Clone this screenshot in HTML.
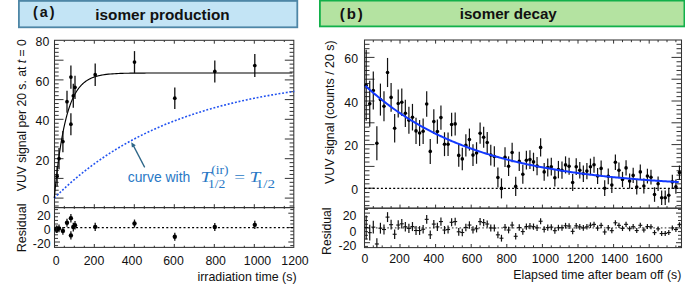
<!DOCTYPE html>
<html><head><meta charset="utf-8"><style>
html,body{margin:0;padding:0;background:#fff;}
body{width:685px;height:285px;overflow:hidden;}
svg{display:block;}
</style></head><body>
<svg width="685" height="285" viewBox="0 0 685 285">
<rect width="685" height="285" fill="#fff"/>
<rect x="18.9" y="0.9" width="278.4" height="26.4" fill="#c3e4f5" stroke="#4e86a6" stroke-width="1.8"/>
<rect x="319.9" y="0.6" width="364.5" height="25.8" fill="#b4e3a1" stroke="#12b04a" stroke-width="1.8"/>
<text x="33.00" y="17.20" font-family='"Liberation Sans", sans-serif' font-size="14.4" text-anchor="start" fill="#111" font-weight="bold" letter-spacing="2.0">(a)</text>
<text x="95.30" y="19.60" font-family='"Liberation Sans", sans-serif' font-size="15.3" text-anchor="start" fill="#111" font-weight="bold">isomer production</text>
<text x="339.80" y="18.90" font-family='"Liberation Sans", sans-serif' font-size="15" text-anchor="start" fill="#111" font-weight="bold" letter-spacing="1.9">(b)</text>
<text x="459.70" y="19.30" font-family='"Liberation Sans", sans-serif' font-size="15.2" text-anchor="start" fill="#111" font-weight="bold">isomer decay</text>
<line x1="54.50" y1="205.98" x2="58.70" y2="205.98" stroke="#333" stroke-width="1" />
<line x1="293.80" y1="205.98" x2="289.60" y2="205.98" stroke="#333" stroke-width="1" />
<line x1="54.50" y1="202.04" x2="58.70" y2="202.04" stroke="#333" stroke-width="1" />
<line x1="293.80" y1="202.04" x2="289.60" y2="202.04" stroke="#333" stroke-width="1" />
<line x1="54.50" y1="198.10" x2="63.50" y2="198.10" stroke="#333" stroke-width="1" />
<line x1="293.80" y1="198.10" x2="284.80" y2="198.10" stroke="#333" stroke-width="1" />
<line x1="54.50" y1="194.16" x2="58.70" y2="194.16" stroke="#333" stroke-width="1" />
<line x1="293.80" y1="194.16" x2="289.60" y2="194.16" stroke="#333" stroke-width="1" />
<line x1="54.50" y1="190.22" x2="58.70" y2="190.22" stroke="#333" stroke-width="1" />
<line x1="293.80" y1="190.22" x2="289.60" y2="190.22" stroke="#333" stroke-width="1" />
<line x1="54.50" y1="186.28" x2="58.70" y2="186.28" stroke="#333" stroke-width="1" />
<line x1="293.80" y1="186.28" x2="289.60" y2="186.28" stroke="#333" stroke-width="1" />
<line x1="54.50" y1="182.34" x2="58.70" y2="182.34" stroke="#333" stroke-width="1" />
<line x1="293.80" y1="182.34" x2="289.60" y2="182.34" stroke="#333" stroke-width="1" />
<line x1="54.50" y1="178.40" x2="63.50" y2="178.40" stroke="#333" stroke-width="1" />
<line x1="293.80" y1="178.40" x2="284.80" y2="178.40" stroke="#333" stroke-width="1" />
<line x1="54.50" y1="174.46" x2="58.70" y2="174.46" stroke="#333" stroke-width="1" />
<line x1="293.80" y1="174.46" x2="289.60" y2="174.46" stroke="#333" stroke-width="1" />
<line x1="54.50" y1="170.52" x2="58.70" y2="170.52" stroke="#333" stroke-width="1" />
<line x1="293.80" y1="170.52" x2="289.60" y2="170.52" stroke="#333" stroke-width="1" />
<line x1="54.50" y1="166.58" x2="58.70" y2="166.58" stroke="#333" stroke-width="1" />
<line x1="293.80" y1="166.58" x2="289.60" y2="166.58" stroke="#333" stroke-width="1" />
<line x1="54.50" y1="162.64" x2="58.70" y2="162.64" stroke="#333" stroke-width="1" />
<line x1="293.80" y1="162.64" x2="289.60" y2="162.64" stroke="#333" stroke-width="1" />
<line x1="54.50" y1="158.70" x2="63.50" y2="158.70" stroke="#333" stroke-width="1" />
<line x1="293.80" y1="158.70" x2="284.80" y2="158.70" stroke="#333" stroke-width="1" />
<line x1="54.50" y1="154.76" x2="58.70" y2="154.76" stroke="#333" stroke-width="1" />
<line x1="293.80" y1="154.76" x2="289.60" y2="154.76" stroke="#333" stroke-width="1" />
<line x1="54.50" y1="150.82" x2="58.70" y2="150.82" stroke="#333" stroke-width="1" />
<line x1="293.80" y1="150.82" x2="289.60" y2="150.82" stroke="#333" stroke-width="1" />
<line x1="54.50" y1="146.88" x2="58.70" y2="146.88" stroke="#333" stroke-width="1" />
<line x1="293.80" y1="146.88" x2="289.60" y2="146.88" stroke="#333" stroke-width="1" />
<line x1="54.50" y1="142.94" x2="58.70" y2="142.94" stroke="#333" stroke-width="1" />
<line x1="293.80" y1="142.94" x2="289.60" y2="142.94" stroke="#333" stroke-width="1" />
<line x1="54.50" y1="139.00" x2="63.50" y2="139.00" stroke="#333" stroke-width="1" />
<line x1="293.80" y1="139.00" x2="284.80" y2="139.00" stroke="#333" stroke-width="1" />
<line x1="54.50" y1="135.06" x2="58.70" y2="135.06" stroke="#333" stroke-width="1" />
<line x1="293.80" y1="135.06" x2="289.60" y2="135.06" stroke="#333" stroke-width="1" />
<line x1="54.50" y1="131.12" x2="58.70" y2="131.12" stroke="#333" stroke-width="1" />
<line x1="293.80" y1="131.12" x2="289.60" y2="131.12" stroke="#333" stroke-width="1" />
<line x1="54.50" y1="127.18" x2="58.70" y2="127.18" stroke="#333" stroke-width="1" />
<line x1="293.80" y1="127.18" x2="289.60" y2="127.18" stroke="#333" stroke-width="1" />
<line x1="54.50" y1="123.24" x2="58.70" y2="123.24" stroke="#333" stroke-width="1" />
<line x1="293.80" y1="123.24" x2="289.60" y2="123.24" stroke="#333" stroke-width="1" />
<line x1="54.50" y1="119.30" x2="63.50" y2="119.30" stroke="#333" stroke-width="1" />
<line x1="293.80" y1="119.30" x2="284.80" y2="119.30" stroke="#333" stroke-width="1" />
<line x1="54.50" y1="115.36" x2="58.70" y2="115.36" stroke="#333" stroke-width="1" />
<line x1="293.80" y1="115.36" x2="289.60" y2="115.36" stroke="#333" stroke-width="1" />
<line x1="54.50" y1="111.42" x2="58.70" y2="111.42" stroke="#333" stroke-width="1" />
<line x1="293.80" y1="111.42" x2="289.60" y2="111.42" stroke="#333" stroke-width="1" />
<line x1="54.50" y1="107.48" x2="58.70" y2="107.48" stroke="#333" stroke-width="1" />
<line x1="293.80" y1="107.48" x2="289.60" y2="107.48" stroke="#333" stroke-width="1" />
<line x1="54.50" y1="103.54" x2="58.70" y2="103.54" stroke="#333" stroke-width="1" />
<line x1="293.80" y1="103.54" x2="289.60" y2="103.54" stroke="#333" stroke-width="1" />
<line x1="54.50" y1="99.60" x2="63.50" y2="99.60" stroke="#333" stroke-width="1" />
<line x1="293.80" y1="99.60" x2="284.80" y2="99.60" stroke="#333" stroke-width="1" />
<line x1="54.50" y1="95.66" x2="58.70" y2="95.66" stroke="#333" stroke-width="1" />
<line x1="293.80" y1="95.66" x2="289.60" y2="95.66" stroke="#333" stroke-width="1" />
<line x1="54.50" y1="91.72" x2="58.70" y2="91.72" stroke="#333" stroke-width="1" />
<line x1="293.80" y1="91.72" x2="289.60" y2="91.72" stroke="#333" stroke-width="1" />
<line x1="54.50" y1="87.78" x2="58.70" y2="87.78" stroke="#333" stroke-width="1" />
<line x1="293.80" y1="87.78" x2="289.60" y2="87.78" stroke="#333" stroke-width="1" />
<line x1="54.50" y1="83.84" x2="58.70" y2="83.84" stroke="#333" stroke-width="1" />
<line x1="293.80" y1="83.84" x2="289.60" y2="83.84" stroke="#333" stroke-width="1" />
<line x1="54.50" y1="79.90" x2="63.50" y2="79.90" stroke="#333" stroke-width="1" />
<line x1="293.80" y1="79.90" x2="284.80" y2="79.90" stroke="#333" stroke-width="1" />
<line x1="54.50" y1="75.96" x2="58.70" y2="75.96" stroke="#333" stroke-width="1" />
<line x1="293.80" y1="75.96" x2="289.60" y2="75.96" stroke="#333" stroke-width="1" />
<line x1="54.50" y1="72.02" x2="58.70" y2="72.02" stroke="#333" stroke-width="1" />
<line x1="293.80" y1="72.02" x2="289.60" y2="72.02" stroke="#333" stroke-width="1" />
<line x1="54.50" y1="68.08" x2="58.70" y2="68.08" stroke="#333" stroke-width="1" />
<line x1="293.80" y1="68.08" x2="289.60" y2="68.08" stroke="#333" stroke-width="1" />
<line x1="54.50" y1="64.14" x2="58.70" y2="64.14" stroke="#333" stroke-width="1" />
<line x1="293.80" y1="64.14" x2="289.60" y2="64.14" stroke="#333" stroke-width="1" />
<line x1="54.50" y1="60.20" x2="63.50" y2="60.20" stroke="#333" stroke-width="1" />
<line x1="293.80" y1="60.20" x2="284.80" y2="60.20" stroke="#333" stroke-width="1" />
<line x1="54.50" y1="56.26" x2="58.70" y2="56.26" stroke="#333" stroke-width="1" />
<line x1="293.80" y1="56.26" x2="289.60" y2="56.26" stroke="#333" stroke-width="1" />
<line x1="54.50" y1="52.32" x2="58.70" y2="52.32" stroke="#333" stroke-width="1" />
<line x1="293.80" y1="52.32" x2="289.60" y2="52.32" stroke="#333" stroke-width="1" />
<line x1="54.50" y1="48.38" x2="58.70" y2="48.38" stroke="#333" stroke-width="1" />
<line x1="293.80" y1="48.38" x2="289.60" y2="48.38" stroke="#333" stroke-width="1" />
<line x1="54.50" y1="44.44" x2="58.70" y2="44.44" stroke="#333" stroke-width="1" />
<line x1="293.80" y1="44.44" x2="289.60" y2="44.44" stroke="#333" stroke-width="1" />
<line x1="64.30" y1="40.30" x2="64.30" y2="42.00" stroke="#333" stroke-width="1" />
<line x1="64.30" y1="207.60" x2="64.30" y2="205.90" stroke="#333" stroke-width="1" />
<line x1="64.30" y1="207.60" x2="64.30" y2="208.90" stroke="#333" stroke-width="1" />
<line x1="64.30" y1="247.40" x2="64.30" y2="245.70" stroke="#333" stroke-width="1" />
<line x1="74.30" y1="40.30" x2="74.30" y2="42.00" stroke="#333" stroke-width="1" />
<line x1="74.30" y1="207.60" x2="74.30" y2="205.90" stroke="#333" stroke-width="1" />
<line x1="74.30" y1="207.60" x2="74.30" y2="208.90" stroke="#333" stroke-width="1" />
<line x1="74.30" y1="247.40" x2="74.30" y2="245.70" stroke="#333" stroke-width="1" />
<line x1="84.30" y1="40.30" x2="84.30" y2="42.00" stroke="#333" stroke-width="1" />
<line x1="84.30" y1="207.60" x2="84.30" y2="205.90" stroke="#333" stroke-width="1" />
<line x1="84.30" y1="207.60" x2="84.30" y2="208.90" stroke="#333" stroke-width="1" />
<line x1="84.30" y1="247.40" x2="84.30" y2="245.70" stroke="#333" stroke-width="1" />
<line x1="94.30" y1="40.30" x2="94.30" y2="43.70" stroke="#333" stroke-width="1" />
<line x1="94.30" y1="207.60" x2="94.30" y2="204.20" stroke="#333" stroke-width="1" />
<line x1="94.30" y1="207.60" x2="94.30" y2="208.90" stroke="#333" stroke-width="1" />
<line x1="94.30" y1="247.40" x2="94.30" y2="244.00" stroke="#333" stroke-width="1" />
<line x1="104.30" y1="40.30" x2="104.30" y2="42.00" stroke="#333" stroke-width="1" />
<line x1="104.30" y1="207.60" x2="104.30" y2="205.90" stroke="#333" stroke-width="1" />
<line x1="104.30" y1="207.60" x2="104.30" y2="208.90" stroke="#333" stroke-width="1" />
<line x1="104.30" y1="247.40" x2="104.30" y2="245.70" stroke="#333" stroke-width="1" />
<line x1="114.30" y1="40.30" x2="114.30" y2="42.00" stroke="#333" stroke-width="1" />
<line x1="114.30" y1="207.60" x2="114.30" y2="205.90" stroke="#333" stroke-width="1" />
<line x1="114.30" y1="207.60" x2="114.30" y2="208.90" stroke="#333" stroke-width="1" />
<line x1="114.30" y1="247.40" x2="114.30" y2="245.70" stroke="#333" stroke-width="1" />
<line x1="124.30" y1="40.30" x2="124.30" y2="42.00" stroke="#333" stroke-width="1" />
<line x1="124.30" y1="207.60" x2="124.30" y2="205.90" stroke="#333" stroke-width="1" />
<line x1="124.30" y1="207.60" x2="124.30" y2="208.90" stroke="#333" stroke-width="1" />
<line x1="124.30" y1="247.40" x2="124.30" y2="245.70" stroke="#333" stroke-width="1" />
<line x1="134.30" y1="40.30" x2="134.30" y2="43.70" stroke="#333" stroke-width="1" />
<line x1="134.30" y1="207.60" x2="134.30" y2="204.20" stroke="#333" stroke-width="1" />
<line x1="134.30" y1="207.60" x2="134.30" y2="208.90" stroke="#333" stroke-width="1" />
<line x1="134.30" y1="247.40" x2="134.30" y2="244.00" stroke="#333" stroke-width="1" />
<line x1="144.30" y1="40.30" x2="144.30" y2="42.00" stroke="#333" stroke-width="1" />
<line x1="144.30" y1="207.60" x2="144.30" y2="205.90" stroke="#333" stroke-width="1" />
<line x1="144.30" y1="207.60" x2="144.30" y2="208.90" stroke="#333" stroke-width="1" />
<line x1="144.30" y1="247.40" x2="144.30" y2="245.70" stroke="#333" stroke-width="1" />
<line x1="154.30" y1="40.30" x2="154.30" y2="42.00" stroke="#333" stroke-width="1" />
<line x1="154.30" y1="207.60" x2="154.30" y2="205.90" stroke="#333" stroke-width="1" />
<line x1="154.30" y1="207.60" x2="154.30" y2="208.90" stroke="#333" stroke-width="1" />
<line x1="154.30" y1="247.40" x2="154.30" y2="245.70" stroke="#333" stroke-width="1" />
<line x1="164.30" y1="40.30" x2="164.30" y2="42.00" stroke="#333" stroke-width="1" />
<line x1="164.30" y1="207.60" x2="164.30" y2="205.90" stroke="#333" stroke-width="1" />
<line x1="164.30" y1="207.60" x2="164.30" y2="208.90" stroke="#333" stroke-width="1" />
<line x1="164.30" y1="247.40" x2="164.30" y2="245.70" stroke="#333" stroke-width="1" />
<line x1="174.30" y1="40.30" x2="174.30" y2="43.70" stroke="#333" stroke-width="1" />
<line x1="174.30" y1="207.60" x2="174.30" y2="204.20" stroke="#333" stroke-width="1" />
<line x1="174.30" y1="207.60" x2="174.30" y2="208.90" stroke="#333" stroke-width="1" />
<line x1="174.30" y1="247.40" x2="174.30" y2="244.00" stroke="#333" stroke-width="1" />
<line x1="184.30" y1="40.30" x2="184.30" y2="42.00" stroke="#333" stroke-width="1" />
<line x1="184.30" y1="207.60" x2="184.30" y2="205.90" stroke="#333" stroke-width="1" />
<line x1="184.30" y1="207.60" x2="184.30" y2="208.90" stroke="#333" stroke-width="1" />
<line x1="184.30" y1="247.40" x2="184.30" y2="245.70" stroke="#333" stroke-width="1" />
<line x1="194.30" y1="40.30" x2="194.30" y2="42.00" stroke="#333" stroke-width="1" />
<line x1="194.30" y1="207.60" x2="194.30" y2="205.90" stroke="#333" stroke-width="1" />
<line x1="194.30" y1="207.60" x2="194.30" y2="208.90" stroke="#333" stroke-width="1" />
<line x1="194.30" y1="247.40" x2="194.30" y2="245.70" stroke="#333" stroke-width="1" />
<line x1="204.30" y1="40.30" x2="204.30" y2="42.00" stroke="#333" stroke-width="1" />
<line x1="204.30" y1="207.60" x2="204.30" y2="205.90" stroke="#333" stroke-width="1" />
<line x1="204.30" y1="207.60" x2="204.30" y2="208.90" stroke="#333" stroke-width="1" />
<line x1="204.30" y1="247.40" x2="204.30" y2="245.70" stroke="#333" stroke-width="1" />
<line x1="214.30" y1="40.30" x2="214.30" y2="43.70" stroke="#333" stroke-width="1" />
<line x1="214.30" y1="207.60" x2="214.30" y2="204.20" stroke="#333" stroke-width="1" />
<line x1="214.30" y1="207.60" x2="214.30" y2="208.90" stroke="#333" stroke-width="1" />
<line x1="214.30" y1="247.40" x2="214.30" y2="244.00" stroke="#333" stroke-width="1" />
<line x1="224.30" y1="40.30" x2="224.30" y2="42.00" stroke="#333" stroke-width="1" />
<line x1="224.30" y1="207.60" x2="224.30" y2="205.90" stroke="#333" stroke-width="1" />
<line x1="224.30" y1="207.60" x2="224.30" y2="208.90" stroke="#333" stroke-width="1" />
<line x1="224.30" y1="247.40" x2="224.30" y2="245.70" stroke="#333" stroke-width="1" />
<line x1="234.30" y1="40.30" x2="234.30" y2="42.00" stroke="#333" stroke-width="1" />
<line x1="234.30" y1="207.60" x2="234.30" y2="205.90" stroke="#333" stroke-width="1" />
<line x1="234.30" y1="207.60" x2="234.30" y2="208.90" stroke="#333" stroke-width="1" />
<line x1="234.30" y1="247.40" x2="234.30" y2="245.70" stroke="#333" stroke-width="1" />
<line x1="244.30" y1="40.30" x2="244.30" y2="42.00" stroke="#333" stroke-width="1" />
<line x1="244.30" y1="207.60" x2="244.30" y2="205.90" stroke="#333" stroke-width="1" />
<line x1="244.30" y1="207.60" x2="244.30" y2="208.90" stroke="#333" stroke-width="1" />
<line x1="244.30" y1="247.40" x2="244.30" y2="245.70" stroke="#333" stroke-width="1" />
<line x1="254.30" y1="40.30" x2="254.30" y2="43.70" stroke="#333" stroke-width="1" />
<line x1="254.30" y1="207.60" x2="254.30" y2="204.20" stroke="#333" stroke-width="1" />
<line x1="254.30" y1="207.60" x2="254.30" y2="208.90" stroke="#333" stroke-width="1" />
<line x1="254.30" y1="247.40" x2="254.30" y2="244.00" stroke="#333" stroke-width="1" />
<line x1="264.30" y1="40.30" x2="264.30" y2="42.00" stroke="#333" stroke-width="1" />
<line x1="264.30" y1="207.60" x2="264.30" y2="205.90" stroke="#333" stroke-width="1" />
<line x1="264.30" y1="207.60" x2="264.30" y2="208.90" stroke="#333" stroke-width="1" />
<line x1="264.30" y1="247.40" x2="264.30" y2="245.70" stroke="#333" stroke-width="1" />
<line x1="274.30" y1="40.30" x2="274.30" y2="42.00" stroke="#333" stroke-width="1" />
<line x1="274.30" y1="207.60" x2="274.30" y2="205.90" stroke="#333" stroke-width="1" />
<line x1="274.30" y1="207.60" x2="274.30" y2="208.90" stroke="#333" stroke-width="1" />
<line x1="274.30" y1="247.40" x2="274.30" y2="245.70" stroke="#333" stroke-width="1" />
<line x1="284.30" y1="40.30" x2="284.30" y2="42.00" stroke="#333" stroke-width="1" />
<line x1="284.30" y1="207.60" x2="284.30" y2="205.90" stroke="#333" stroke-width="1" />
<line x1="284.30" y1="207.60" x2="284.30" y2="208.90" stroke="#333" stroke-width="1" />
<line x1="284.30" y1="247.40" x2="284.30" y2="245.70" stroke="#333" stroke-width="1" />
<line x1="54.50" y1="245.60" x2="58.00" y2="245.60" stroke="#333" stroke-width="1" />
<line x1="293.80" y1="245.60" x2="290.30" y2="245.60" stroke="#333" stroke-width="1" />
<line x1="54.50" y1="242.00" x2="60.00" y2="242.00" stroke="#333" stroke-width="1" />
<line x1="293.80" y1="242.00" x2="288.30" y2="242.00" stroke="#333" stroke-width="1" />
<line x1="54.50" y1="238.40" x2="58.00" y2="238.40" stroke="#333" stroke-width="1" />
<line x1="293.80" y1="238.40" x2="290.30" y2="238.40" stroke="#333" stroke-width="1" />
<line x1="54.50" y1="234.80" x2="58.00" y2="234.80" stroke="#333" stroke-width="1" />
<line x1="293.80" y1="234.80" x2="290.30" y2="234.80" stroke="#333" stroke-width="1" />
<line x1="54.50" y1="231.20" x2="58.00" y2="231.20" stroke="#333" stroke-width="1" />
<line x1="293.80" y1="231.20" x2="290.30" y2="231.20" stroke="#333" stroke-width="1" />
<line x1="54.50" y1="227.60" x2="60.00" y2="227.60" stroke="#333" stroke-width="1" />
<line x1="293.80" y1="227.60" x2="288.30" y2="227.60" stroke="#333" stroke-width="1" />
<line x1="54.50" y1="224.00" x2="58.00" y2="224.00" stroke="#333" stroke-width="1" />
<line x1="293.80" y1="224.00" x2="290.30" y2="224.00" stroke="#333" stroke-width="1" />
<line x1="54.50" y1="220.40" x2="58.00" y2="220.40" stroke="#333" stroke-width="1" />
<line x1="293.80" y1="220.40" x2="290.30" y2="220.40" stroke="#333" stroke-width="1" />
<line x1="54.50" y1="216.80" x2="58.00" y2="216.80" stroke="#333" stroke-width="1" />
<line x1="293.80" y1="216.80" x2="290.30" y2="216.80" stroke="#333" stroke-width="1" />
<line x1="54.50" y1="213.20" x2="60.00" y2="213.20" stroke="#333" stroke-width="1" />
<line x1="293.80" y1="213.20" x2="288.30" y2="213.20" stroke="#333" stroke-width="1" />
<line x1="54.50" y1="209.60" x2="58.00" y2="209.60" stroke="#333" stroke-width="1" />
<line x1="293.80" y1="209.60" x2="290.30" y2="209.60" stroke="#333" stroke-width="1" />
<rect x="54.5" y="40.3" width="239.30" height="167.30" fill="none" stroke="#333" stroke-width="1.05"/>
<rect x="54.5" y="207.6" width="239.30" height="39.80" fill="none" stroke="#333" stroke-width="1.05"/>
<text x="49.30" y="203.90" font-family='"Liberation Sans", sans-serif' font-size="12.3" text-anchor="end" fill="#111" >0</text>
<text x="49.30" y="164.50" font-family='"Liberation Sans", sans-serif' font-size="12.3" text-anchor="end" fill="#111" >20</text>
<text x="49.30" y="125.10" font-family='"Liberation Sans", sans-serif' font-size="12.3" text-anchor="end" fill="#111" >40</text>
<text x="49.30" y="85.70" font-family='"Liberation Sans", sans-serif' font-size="12.3" text-anchor="end" fill="#111" >60</text>
<text x="49.30" y="46.30" font-family='"Liberation Sans", sans-serif' font-size="12.3" text-anchor="end" fill="#111" >80</text>
<text x="50.60" y="219.60" font-family='"Liberation Sans", sans-serif' font-size="12.3" text-anchor="end" fill="#111" >20</text>
<text x="50.60" y="233.90" font-family='"Liberation Sans", sans-serif' font-size="12.3" text-anchor="end" fill="#111" >0</text>
<text x="50.60" y="247.60" font-family='"Liberation Sans", sans-serif' font-size="12.3" text-anchor="end" fill="#111" >-20</text>
<text x="56.10" y="265.00" font-family='"Liberation Sans", sans-serif' font-size="12.3" text-anchor="middle" fill="#111" >0</text>
<text x="94.00" y="265.00" font-family='"Liberation Sans", sans-serif' font-size="12.3" text-anchor="middle" fill="#111" >200</text>
<text x="132.00" y="265.00" font-family='"Liberation Sans", sans-serif' font-size="12.3" text-anchor="middle" fill="#111" >400</text>
<text x="173.50" y="265.00" font-family='"Liberation Sans", sans-serif' font-size="12.3" text-anchor="middle" fill="#111" >600</text>
<text x="215.70" y="265.00" font-family='"Liberation Sans", sans-serif' font-size="12.3" text-anchor="middle" fill="#111" >800</text>
<text x="257.50" y="265.00" font-family='"Liberation Sans", sans-serif' font-size="12.3" text-anchor="middle" fill="#111" >1000</text>
<text x="295.00" y="265.00" font-family='"Liberation Sans", sans-serif' font-size="12.3" text-anchor="middle" fill="#111" >1200</text>
<text x="247.00" y="280.60" font-family='"Liberation Sans", sans-serif' font-size="12.4" text-anchor="middle" fill="#111" >irradiation time (s)</text>
<text transform="translate(26.0,115.2) rotate(-90)" font-family='"Liberation Sans", sans-serif' font-size="12.2" text-anchor="middle" fill="#111">VUV signal per 20 s. at <tspan font-style="italic">t</tspan> = 0</text>
<text transform="translate(26.0,227.9) rotate(-90)" font-family='"Liberation Sans", sans-serif' font-size="12.55" text-anchor="middle" fill="#111">Residual</text>
<polyline points="54.30,198.10 56.30,196.11 58.30,194.16 60.30,192.24 62.30,190.34 64.30,188.48 66.30,186.65 68.30,184.85 70.30,183.07 72.30,181.32 74.30,179.60 76.30,177.91 78.30,176.25 80.30,174.61 82.30,173.00 84.30,171.41 86.30,169.85 88.30,168.31 90.30,166.80 92.30,165.31 94.30,163.84 96.30,162.40 98.30,160.98 100.30,159.59 102.30,158.21 104.30,156.86 106.30,155.53 108.30,154.22 110.30,152.93 112.30,151.66 114.30,150.41 116.30,149.18 118.30,147.97 120.30,146.78 122.30,145.61 124.30,144.46 126.30,143.33 128.30,142.21 130.30,141.11 132.30,140.03 134.30,138.97 136.30,137.92 138.30,136.89 140.30,135.88 142.30,134.88 144.30,133.90 146.30,132.93 148.30,131.98 150.30,131.04 152.30,130.12 154.30,129.21 156.30,128.32 158.30,127.44 160.30,126.58 162.30,125.73 164.30,124.89 166.30,124.07 168.30,123.26 170.30,122.46 172.30,121.68 174.30,120.90 176.30,120.14 178.30,119.39 180.30,118.66 182.30,117.93 184.30,117.22 186.30,116.52 188.30,115.83 190.30,115.15 192.30,114.48 194.30,113.82 196.30,113.17 198.30,112.54 200.30,111.91 202.30,111.29 204.30,110.68 206.30,110.08 208.30,109.50 210.30,108.92 212.30,108.35 214.30,107.79 216.30,107.23 218.30,106.69 220.30,106.16 222.30,105.63 224.30,105.11 226.30,104.60 228.30,104.10 230.30,103.61 232.30,103.12 234.30,102.64 236.30,102.17 238.30,101.71 240.30,101.25 242.30,100.81 244.30,100.36 246.30,99.93 248.30,99.50 250.30,99.08 252.30,98.67 254.30,98.26 256.30,97.86 258.30,97.47 260.30,97.08 262.30,96.70 264.30,96.32 266.30,95.95 268.30,95.59 270.30,95.23 272.30,94.87 274.30,94.53 276.30,94.19 278.30,93.85 280.30,93.52 282.30,93.19 284.30,92.87 286.30,92.56 288.30,92.25 290.30,91.94 292.30,91.64 294.30,91.34" fill="none" stroke="#2152f0" stroke-width="1.6" stroke-dasharray="1.9 1.8"/>
<polyline points="54.30,198.10 54.60,194.91 54.90,191.79 55.20,188.76 55.50,185.81 55.80,182.93 56.10,180.12 56.40,177.39 56.70,174.72 57.00,172.12 57.30,169.59 57.60,167.13 57.90,164.72 58.20,162.38 58.50,160.10 58.80,157.88 59.10,155.71 59.40,153.60 59.70,151.54 60.00,149.54 60.30,147.58 60.60,145.68 60.90,143.82 61.20,142.01 61.50,140.25 61.80,138.54 62.10,136.86 62.40,135.23 62.70,133.64 63.00,132.10 63.30,130.59 63.60,129.12 63.90,127.68 64.20,126.29 64.50,124.93 64.80,123.60 65.10,122.31 65.40,121.05 65.70,119.83 66.00,118.63 66.30,117.47 66.60,116.33 66.90,115.22 67.20,114.15 67.50,113.10 67.80,112.07 68.10,111.07 68.40,110.10 68.70,109.16 69.00,108.23 69.30,107.33 69.60,106.46 69.90,105.60 70.20,104.77 70.50,103.96 70.80,103.17 71.10,102.40 71.40,101.65 71.70,100.92 72.00,100.20 72.30,99.51 72.60,98.83 72.90,98.17 73.20,97.53 73.50,96.91 73.80,96.30 74.10,95.70 74.40,95.12 74.70,94.56 75.00,94.01 75.30,93.47 75.60,92.95 75.90,92.44 76.20,91.94 76.50,91.46 76.80,90.99 77.10,90.53 77.40,90.08 77.70,89.65 78.00,89.22 78.30,88.81 78.60,88.40 78.90,88.01 79.20,87.63 79.50,87.25 79.80,86.89 80.10,86.54 80.40,86.19 80.70,85.85 81.00,85.53 81.30,85.21 81.60,84.89 81.90,84.59 82.20,84.29 82.50,84.01 82.80,83.73 83.10,83.45 83.40,83.19 83.70,82.93 84.00,82.67 84.30,82.43 84.60,82.18 84.90,81.95 85.20,81.72 85.50,81.50 85.80,81.28 86.10,81.07 86.40,80.87 86.70,80.66 87.00,80.47 87.30,80.28 87.60,80.09 87.90,79.91 88.20,79.74 88.50,79.56 88.80,79.40 89.10,79.23 89.40,79.07 89.70,78.92 90.00,78.77 90.30,78.62 90.60,78.48 90.90,78.34 91.20,78.20 91.50,78.07 91.80,77.94 92.10,77.81 92.40,77.69 92.70,77.57 93.00,77.45 93.30,77.34 93.60,77.23 93.90,77.12 94.20,77.02 94.50,76.92 94.80,76.82 95.10,76.72 95.40,76.62 95.70,76.53 96.00,76.44 96.30,76.35 96.60,76.27 96.90,76.18 97.20,76.10 97.50,76.02 97.80,75.95 98.10,75.87 98.40,75.80 98.70,75.73 99.00,75.66 99.30,75.59 99.60,75.52 99.90,75.46 100.20,75.40 100.50,75.34 100.80,75.28 101.10,75.22 101.40,75.16 101.70,75.11 102.00,75.05 102.30,75.00 102.60,74.95 102.90,74.90 103.20,74.85 103.50,74.80 103.80,74.76 104.10,74.71 104.40,74.67 106.40,74.41 108.40,74.18 110.40,74.00 112.40,73.84 114.40,73.71 116.40,73.60 118.40,73.50 120.40,73.42 122.40,73.36 124.40,73.30 126.40,73.25 128.40,73.22 130.40,73.18 132.40,73.15 134.40,73.13 136.40,73.11 138.40,73.09 140.40,73.08 142.40,73.07 144.40,73.06 146.40,73.05 148.40,73.04 150.40,73.04 152.40,73.03 154.40,73.03 156.40,73.02 158.40,73.02 160.40,73.02 162.40,73.02 164.40,73.01 166.40,73.01 168.40,73.01 170.40,73.01 172.40,73.01 174.40,73.01 176.40,73.01 178.40,73.01 180.40,73.01 182.40,73.01 184.40,73.01 186.40,73.01 188.40,73.01 190.40,73.01 192.40,73.01 194.40,73.01 196.40,73.01 198.40,73.01 200.40,73.01 202.40,73.01 204.40,73.01 206.40,73.01 208.40,73.01 210.40,73.01 212.40,73.01 214.40,73.01 216.40,73.01 218.40,73.01 220.40,73.01 222.40,73.01 224.40,73.01 226.40,73.01 228.40,73.01 230.40,73.01 232.40,73.01 234.40,73.01 236.40,73.01 238.40,73.01 240.40,73.01 242.40,73.01 244.40,73.01 246.40,73.01 248.40,73.01 250.40,73.01 252.40,73.01 254.40,73.01 256.40,73.01 258.40,73.01 260.40,73.01 262.40,73.01 264.40,73.01 266.40,73.01 268.40,73.01 270.40,73.01 272.40,73.01 274.40,73.01 276.40,73.01 278.40,73.01 280.40,73.01 282.40,73.01 284.40,73.01 286.40,73.01 288.40,73.01 290.40,73.01 292.40,73.01" fill="none" stroke="#000" stroke-width="1.15"/>
<line x1="57.10" y1="166.20" x2="57.10" y2="186.20" stroke="#111" stroke-width="1.3" />
<circle cx="57.1" cy="176.2" r="1.85" fill="#000"/>
<line x1="59.00" y1="148.00" x2="59.00" y2="169.20" stroke="#111" stroke-width="1.3" />
<circle cx="59.0" cy="158.6" r="1.85" fill="#000"/>
<line x1="62.90" y1="130.90" x2="62.90" y2="152.30" stroke="#111" stroke-width="1.3" />
<circle cx="62.9" cy="141.6" r="1.85" fill="#000"/>
<line x1="67.00" y1="90.70" x2="67.00" y2="112.70" stroke="#111" stroke-width="1.3" />
<circle cx="67.0" cy="101.7" r="1.85" fill="#000"/>
<line x1="70.90" y1="65.40" x2="70.90" y2="88.80" stroke="#111" stroke-width="1.3" />
<circle cx="70.9" cy="77.1" r="1.85" fill="#000"/>
<line x1="70.90" y1="113.20" x2="70.90" y2="135.20" stroke="#111" stroke-width="1.3" />
<circle cx="70.9" cy="124.2" r="1.85" fill="#000"/>
<line x1="73.30" y1="83.80" x2="73.30" y2="107.80" stroke="#111" stroke-width="1.3" />
<circle cx="73.3" cy="95.8" r="1.85" fill="#000"/>
<line x1="75.00" y1="75.70" x2="75.00" y2="98.90" stroke="#111" stroke-width="1.3" />
<circle cx="75.0" cy="87.3" r="1.85" fill="#000"/>
<line x1="95.20" y1="63.40" x2="95.20" y2="86.00" stroke="#111" stroke-width="1.3" />
<circle cx="95.2" cy="74.7" r="1.85" fill="#000"/>
<line x1="134.50" y1="51.10" x2="134.50" y2="73.10" stroke="#111" stroke-width="1.3" />
<circle cx="134.5" cy="62.1" r="1.85" fill="#000"/>
<line x1="174.80" y1="87.40" x2="174.80" y2="109.00" stroke="#111" stroke-width="1.3" />
<circle cx="174.8" cy="98.2" r="1.85" fill="#000"/>
<line x1="214.80" y1="60.40" x2="214.80" y2="82.40" stroke="#111" stroke-width="1.3" />
<circle cx="214.8" cy="71.4" r="1.85" fill="#000"/>
<line x1="254.80" y1="54.10" x2="254.80" y2="76.90" stroke="#111" stroke-width="1.3" />
<circle cx="254.8" cy="65.5" r="1.85" fill="#000"/>
<line x1="54.50" y1="227.60" x2="293.80" y2="227.60" stroke="#000" stroke-width="1.2" stroke-dasharray="2 2.3"/>
<line x1="57.10" y1="225.75" x2="57.10" y2="233.06" stroke="#111" stroke-width="1.3" />
<circle cx="57.1" cy="229.40" r="2.2" fill="#000"/>
<line x1="59.00" y1="224.52" x2="59.00" y2="232.27" stroke="#111" stroke-width="1.3" />
<circle cx="59.0" cy="228.39" r="2.2" fill="#000"/>
<line x1="62.90" y1="226.98" x2="62.90" y2="234.80" stroke="#111" stroke-width="1.3" />
<circle cx="62.9" cy="230.89" r="2.2" fill="#000"/>
<line x1="67.00" y1="218.77" x2="67.00" y2="226.81" stroke="#111" stroke-width="1.3" />
<circle cx="67.0" cy="222.79" r="2.2" fill="#000"/>
<line x1="70.90" y1="213.89" x2="70.90" y2="222.44" stroke="#111" stroke-width="1.3" />
<circle cx="70.9" cy="218.17" r="2.2" fill="#000"/>
<line x1="70.90" y1="231.36" x2="70.90" y2="239.40" stroke="#111" stroke-width="1.3" />
<circle cx="70.9" cy="235.38" r="2.2" fill="#000"/>
<line x1="73.30" y1="222.66" x2="73.30" y2="231.43" stroke="#111" stroke-width="1.3" />
<circle cx="73.3" cy="227.04" r="2.2" fill="#000"/>
<line x1="75.00" y1="220.91" x2="75.00" y2="229.39" stroke="#111" stroke-width="1.3" />
<circle cx="75.0" cy="225.15" r="2.2" fill="#000"/>
<line x1="95.20" y1="222.74" x2="95.20" y2="231.00" stroke="#111" stroke-width="1.3" />
<circle cx="95.2" cy="226.87" r="2.2" fill="#000"/>
<line x1="134.50" y1="219.55" x2="134.50" y2="227.59" stroke="#111" stroke-width="1.3" />
<circle cx="134.5" cy="223.57" r="2.2" fill="#000"/>
<line x1="174.80" y1="232.86" x2="174.80" y2="240.75" stroke="#111" stroke-width="1.3" />
<circle cx="174.8" cy="236.81" r="2.2" fill="#000"/>
<line x1="214.80" y1="222.99" x2="214.80" y2="231.03" stroke="#111" stroke-width="1.3" />
<circle cx="214.8" cy="227.01" r="2.2" fill="#000"/>
<line x1="254.80" y1="220.69" x2="254.80" y2="229.02" stroke="#111" stroke-width="1.3" />
<circle cx="254.8" cy="224.86" r="2.2" fill="#000"/>
<circle cx="56.3" cy="229.3" r="2.2" fill="#000"/>
<line x1="56.30" y1="225.50" x2="56.30" y2="233.00" stroke="#111" stroke-width="1.3" />
<line x1="144.7" y1="167.4" x2="133.4" y2="145.6" stroke="#2d6688" stroke-width="1.3"/>
<polygon points="131.2,142.2 135.8,145.3 131.9,147.4" fill="#2d6688"/>
<text x="127.7" y="181.6" font-family='"Liberation Sans", sans-serif' font-size="13.8" fill="#2878c5" textLength="62.6" lengthAdjust="spacingAndGlyphs">curve with</text>
<text x="200.6" y="182.1" font-family='"Liberation Serif", serif' font-size="15.6" font-style="italic" fill="#2878c5" textLength="10.8" lengthAdjust="spacingAndGlyphs">T</text>
<text x="208.0" y="188.3" font-family='"Liberation Serif", serif' font-size="13.0" fill="#2878c5" textLength="17.4" lengthAdjust="spacingAndGlyphs">1/2</text>
<text x="211.3" y="174.0" font-family='"Liberation Serif", serif' font-size="12.4" fill="#2878c5" textLength="17.2" lengthAdjust="spacingAndGlyphs">(ir)</text>
<text x="234.2" y="182.0" font-family='"Liberation Serif", serif' font-size="15.6" fill="#2878c5" textLength="10.8" lengthAdjust="spacingAndGlyphs">=</text>
<text x="249.4" y="182.1" font-family='"Liberation Serif", serif' font-size="15.6" font-style="italic" fill="#2878c5" textLength="10.8" lengthAdjust="spacingAndGlyphs">T</text>
<text x="255.8" y="188.3" font-family='"Liberation Serif", serif' font-size="13.0" fill="#2878c5" textLength="19.2" lengthAdjust="spacingAndGlyphs">1/2</text>
<line x1="364.50" y1="205.64" x2="369.50" y2="205.64" stroke="#333" stroke-width="1" />
<line x1="681.50" y1="205.64" x2="676.50" y2="205.64" stroke="#333" stroke-width="1" />
<line x1="364.50" y1="201.28" x2="369.50" y2="201.28" stroke="#333" stroke-width="1" />
<line x1="681.50" y1="201.28" x2="676.50" y2="201.28" stroke="#333" stroke-width="1" />
<line x1="364.50" y1="196.92" x2="369.50" y2="196.92" stroke="#333" stroke-width="1" />
<line x1="681.50" y1="196.92" x2="676.50" y2="196.92" stroke="#333" stroke-width="1" />
<line x1="364.50" y1="192.56" x2="369.50" y2="192.56" stroke="#333" stroke-width="1" />
<line x1="681.50" y1="192.56" x2="676.50" y2="192.56" stroke="#333" stroke-width="1" />
<line x1="364.50" y1="188.20" x2="374.50" y2="188.20" stroke="#333" stroke-width="1" />
<line x1="681.50" y1="188.20" x2="671.50" y2="188.20" stroke="#333" stroke-width="1" />
<line x1="364.50" y1="183.84" x2="369.50" y2="183.84" stroke="#333" stroke-width="1" />
<line x1="681.50" y1="183.84" x2="676.50" y2="183.84" stroke="#333" stroke-width="1" />
<line x1="364.50" y1="179.48" x2="369.50" y2="179.48" stroke="#333" stroke-width="1" />
<line x1="681.50" y1="179.48" x2="676.50" y2="179.48" stroke="#333" stroke-width="1" />
<line x1="364.50" y1="175.12" x2="369.50" y2="175.12" stroke="#333" stroke-width="1" />
<line x1="681.50" y1="175.12" x2="676.50" y2="175.12" stroke="#333" stroke-width="1" />
<line x1="364.50" y1="170.76" x2="369.50" y2="170.76" stroke="#333" stroke-width="1" />
<line x1="681.50" y1="170.76" x2="676.50" y2="170.76" stroke="#333" stroke-width="1" />
<line x1="364.50" y1="166.40" x2="374.50" y2="166.40" stroke="#333" stroke-width="1" />
<line x1="681.50" y1="166.40" x2="671.50" y2="166.40" stroke="#333" stroke-width="1" />
<line x1="364.50" y1="162.04" x2="369.50" y2="162.04" stroke="#333" stroke-width="1" />
<line x1="681.50" y1="162.04" x2="676.50" y2="162.04" stroke="#333" stroke-width="1" />
<line x1="364.50" y1="157.68" x2="369.50" y2="157.68" stroke="#333" stroke-width="1" />
<line x1="681.50" y1="157.68" x2="676.50" y2="157.68" stroke="#333" stroke-width="1" />
<line x1="364.50" y1="153.32" x2="369.50" y2="153.32" stroke="#333" stroke-width="1" />
<line x1="681.50" y1="153.32" x2="676.50" y2="153.32" stroke="#333" stroke-width="1" />
<line x1="364.50" y1="148.96" x2="369.50" y2="148.96" stroke="#333" stroke-width="1" />
<line x1="681.50" y1="148.96" x2="676.50" y2="148.96" stroke="#333" stroke-width="1" />
<line x1="364.50" y1="144.60" x2="374.50" y2="144.60" stroke="#333" stroke-width="1" />
<line x1="681.50" y1="144.60" x2="671.50" y2="144.60" stroke="#333" stroke-width="1" />
<line x1="364.50" y1="140.24" x2="369.50" y2="140.24" stroke="#333" stroke-width="1" />
<line x1="681.50" y1="140.24" x2="676.50" y2="140.24" stroke="#333" stroke-width="1" />
<line x1="364.50" y1="135.88" x2="369.50" y2="135.88" stroke="#333" stroke-width="1" />
<line x1="681.50" y1="135.88" x2="676.50" y2="135.88" stroke="#333" stroke-width="1" />
<line x1="364.50" y1="131.52" x2="369.50" y2="131.52" stroke="#333" stroke-width="1" />
<line x1="681.50" y1="131.52" x2="676.50" y2="131.52" stroke="#333" stroke-width="1" />
<line x1="364.50" y1="127.16" x2="369.50" y2="127.16" stroke="#333" stroke-width="1" />
<line x1="681.50" y1="127.16" x2="676.50" y2="127.16" stroke="#333" stroke-width="1" />
<line x1="364.50" y1="122.80" x2="374.50" y2="122.80" stroke="#333" stroke-width="1" />
<line x1="681.50" y1="122.80" x2="671.50" y2="122.80" stroke="#333" stroke-width="1" />
<line x1="364.50" y1="118.44" x2="369.50" y2="118.44" stroke="#333" stroke-width="1" />
<line x1="681.50" y1="118.44" x2="676.50" y2="118.44" stroke="#333" stroke-width="1" />
<line x1="364.50" y1="114.08" x2="369.50" y2="114.08" stroke="#333" stroke-width="1" />
<line x1="681.50" y1="114.08" x2="676.50" y2="114.08" stroke="#333" stroke-width="1" />
<line x1="364.50" y1="109.72" x2="369.50" y2="109.72" stroke="#333" stroke-width="1" />
<line x1="681.50" y1="109.72" x2="676.50" y2="109.72" stroke="#333" stroke-width="1" />
<line x1="364.50" y1="105.36" x2="369.50" y2="105.36" stroke="#333" stroke-width="1" />
<line x1="681.50" y1="105.36" x2="676.50" y2="105.36" stroke="#333" stroke-width="1" />
<line x1="364.50" y1="101.00" x2="374.50" y2="101.00" stroke="#333" stroke-width="1" />
<line x1="681.50" y1="101.00" x2="671.50" y2="101.00" stroke="#333" stroke-width="1" />
<line x1="364.50" y1="96.64" x2="369.50" y2="96.64" stroke="#333" stroke-width="1" />
<line x1="681.50" y1="96.64" x2="676.50" y2="96.64" stroke="#333" stroke-width="1" />
<line x1="364.50" y1="92.28" x2="369.50" y2="92.28" stroke="#333" stroke-width="1" />
<line x1="681.50" y1="92.28" x2="676.50" y2="92.28" stroke="#333" stroke-width="1" />
<line x1="364.50" y1="87.92" x2="369.50" y2="87.92" stroke="#333" stroke-width="1" />
<line x1="681.50" y1="87.92" x2="676.50" y2="87.92" stroke="#333" stroke-width="1" />
<line x1="364.50" y1="83.56" x2="369.50" y2="83.56" stroke="#333" stroke-width="1" />
<line x1="681.50" y1="83.56" x2="676.50" y2="83.56" stroke="#333" stroke-width="1" />
<line x1="364.50" y1="79.20" x2="374.50" y2="79.20" stroke="#333" stroke-width="1" />
<line x1="681.50" y1="79.20" x2="671.50" y2="79.20" stroke="#333" stroke-width="1" />
<line x1="364.50" y1="74.84" x2="369.50" y2="74.84" stroke="#333" stroke-width="1" />
<line x1="681.50" y1="74.84" x2="676.50" y2="74.84" stroke="#333" stroke-width="1" />
<line x1="364.50" y1="70.48" x2="369.50" y2="70.48" stroke="#333" stroke-width="1" />
<line x1="681.50" y1="70.48" x2="676.50" y2="70.48" stroke="#333" stroke-width="1" />
<line x1="364.50" y1="66.12" x2="369.50" y2="66.12" stroke="#333" stroke-width="1" />
<line x1="681.50" y1="66.12" x2="676.50" y2="66.12" stroke="#333" stroke-width="1" />
<line x1="364.50" y1="61.76" x2="369.50" y2="61.76" stroke="#333" stroke-width="1" />
<line x1="681.50" y1="61.76" x2="676.50" y2="61.76" stroke="#333" stroke-width="1" />
<line x1="364.50" y1="57.40" x2="374.50" y2="57.40" stroke="#333" stroke-width="1" />
<line x1="681.50" y1="57.40" x2="671.50" y2="57.40" stroke="#333" stroke-width="1" />
<line x1="364.50" y1="53.04" x2="369.50" y2="53.04" stroke="#333" stroke-width="1" />
<line x1="681.50" y1="53.04" x2="676.50" y2="53.04" stroke="#333" stroke-width="1" />
<line x1="364.50" y1="48.68" x2="369.50" y2="48.68" stroke="#333" stroke-width="1" />
<line x1="681.50" y1="48.68" x2="676.50" y2="48.68" stroke="#333" stroke-width="1" />
<line x1="364.50" y1="44.32" x2="369.50" y2="44.32" stroke="#333" stroke-width="1" />
<line x1="681.50" y1="44.32" x2="676.50" y2="44.32" stroke="#333" stroke-width="1" />
<line x1="373.30" y1="40.00" x2="373.30" y2="42.20" stroke="#333" stroke-width="1" />
<line x1="373.30" y1="208.20" x2="373.30" y2="206.00" stroke="#333" stroke-width="1" />
<line x1="373.30" y1="247.60" x2="373.30" y2="245.40" stroke="#333" stroke-width="1" />
<line x1="382.20" y1="40.00" x2="382.20" y2="42.20" stroke="#333" stroke-width="1" />
<line x1="382.20" y1="208.20" x2="382.20" y2="206.00" stroke="#333" stroke-width="1" />
<line x1="382.20" y1="247.60" x2="382.20" y2="245.40" stroke="#333" stroke-width="1" />
<line x1="391.10" y1="40.00" x2="391.10" y2="42.20" stroke="#333" stroke-width="1" />
<line x1="391.10" y1="208.20" x2="391.10" y2="206.00" stroke="#333" stroke-width="1" />
<line x1="391.10" y1="247.60" x2="391.10" y2="245.40" stroke="#333" stroke-width="1" />
<line x1="400.00" y1="40.00" x2="400.00" y2="43.60" stroke="#333" stroke-width="1" />
<line x1="400.00" y1="208.20" x2="400.00" y2="204.60" stroke="#333" stroke-width="1" />
<line x1="400.00" y1="247.60" x2="400.00" y2="244.00" stroke="#333" stroke-width="1" />
<line x1="408.90" y1="40.00" x2="408.90" y2="42.20" stroke="#333" stroke-width="1" />
<line x1="408.90" y1="208.20" x2="408.90" y2="206.00" stroke="#333" stroke-width="1" />
<line x1="408.90" y1="247.60" x2="408.90" y2="245.40" stroke="#333" stroke-width="1" />
<line x1="417.80" y1="40.00" x2="417.80" y2="42.20" stroke="#333" stroke-width="1" />
<line x1="417.80" y1="208.20" x2="417.80" y2="206.00" stroke="#333" stroke-width="1" />
<line x1="417.80" y1="247.60" x2="417.80" y2="245.40" stroke="#333" stroke-width="1" />
<line x1="426.70" y1="40.00" x2="426.70" y2="42.20" stroke="#333" stroke-width="1" />
<line x1="426.70" y1="208.20" x2="426.70" y2="206.00" stroke="#333" stroke-width="1" />
<line x1="426.70" y1="247.60" x2="426.70" y2="245.40" stroke="#333" stroke-width="1" />
<line x1="435.60" y1="40.00" x2="435.60" y2="43.60" stroke="#333" stroke-width="1" />
<line x1="435.60" y1="208.20" x2="435.60" y2="204.60" stroke="#333" stroke-width="1" />
<line x1="435.60" y1="247.60" x2="435.60" y2="244.00" stroke="#333" stroke-width="1" />
<line x1="444.50" y1="40.00" x2="444.50" y2="42.20" stroke="#333" stroke-width="1" />
<line x1="444.50" y1="208.20" x2="444.50" y2="206.00" stroke="#333" stroke-width="1" />
<line x1="444.50" y1="247.60" x2="444.50" y2="245.40" stroke="#333" stroke-width="1" />
<line x1="453.40" y1="40.00" x2="453.40" y2="42.20" stroke="#333" stroke-width="1" />
<line x1="453.40" y1="208.20" x2="453.40" y2="206.00" stroke="#333" stroke-width="1" />
<line x1="453.40" y1="247.60" x2="453.40" y2="245.40" stroke="#333" stroke-width="1" />
<line x1="462.30" y1="40.00" x2="462.30" y2="42.20" stroke="#333" stroke-width="1" />
<line x1="462.30" y1="208.20" x2="462.30" y2="206.00" stroke="#333" stroke-width="1" />
<line x1="462.30" y1="247.60" x2="462.30" y2="245.40" stroke="#333" stroke-width="1" />
<line x1="471.20" y1="40.00" x2="471.20" y2="43.60" stroke="#333" stroke-width="1" />
<line x1="471.20" y1="208.20" x2="471.20" y2="204.60" stroke="#333" stroke-width="1" />
<line x1="471.20" y1="247.60" x2="471.20" y2="244.00" stroke="#333" stroke-width="1" />
<line x1="480.10" y1="40.00" x2="480.10" y2="42.20" stroke="#333" stroke-width="1" />
<line x1="480.10" y1="208.20" x2="480.10" y2="206.00" stroke="#333" stroke-width="1" />
<line x1="480.10" y1="247.60" x2="480.10" y2="245.40" stroke="#333" stroke-width="1" />
<line x1="489.00" y1="40.00" x2="489.00" y2="42.20" stroke="#333" stroke-width="1" />
<line x1="489.00" y1="208.20" x2="489.00" y2="206.00" stroke="#333" stroke-width="1" />
<line x1="489.00" y1="247.60" x2="489.00" y2="245.40" stroke="#333" stroke-width="1" />
<line x1="497.90" y1="40.00" x2="497.90" y2="42.20" stroke="#333" stroke-width="1" />
<line x1="497.90" y1="208.20" x2="497.90" y2="206.00" stroke="#333" stroke-width="1" />
<line x1="497.90" y1="247.60" x2="497.90" y2="245.40" stroke="#333" stroke-width="1" />
<line x1="506.80" y1="40.00" x2="506.80" y2="43.60" stroke="#333" stroke-width="1" />
<line x1="506.80" y1="208.20" x2="506.80" y2="204.60" stroke="#333" stroke-width="1" />
<line x1="506.80" y1="247.60" x2="506.80" y2="244.00" stroke="#333" stroke-width="1" />
<line x1="515.70" y1="40.00" x2="515.70" y2="42.20" stroke="#333" stroke-width="1" />
<line x1="515.70" y1="208.20" x2="515.70" y2="206.00" stroke="#333" stroke-width="1" />
<line x1="515.70" y1="247.60" x2="515.70" y2="245.40" stroke="#333" stroke-width="1" />
<line x1="524.60" y1="40.00" x2="524.60" y2="42.20" stroke="#333" stroke-width="1" />
<line x1="524.60" y1="208.20" x2="524.60" y2="206.00" stroke="#333" stroke-width="1" />
<line x1="524.60" y1="247.60" x2="524.60" y2="245.40" stroke="#333" stroke-width="1" />
<line x1="533.50" y1="40.00" x2="533.50" y2="42.20" stroke="#333" stroke-width="1" />
<line x1="533.50" y1="208.20" x2="533.50" y2="206.00" stroke="#333" stroke-width="1" />
<line x1="533.50" y1="247.60" x2="533.50" y2="245.40" stroke="#333" stroke-width="1" />
<line x1="542.40" y1="40.00" x2="542.40" y2="43.60" stroke="#333" stroke-width="1" />
<line x1="542.40" y1="208.20" x2="542.40" y2="204.60" stroke="#333" stroke-width="1" />
<line x1="542.40" y1="247.60" x2="542.40" y2="244.00" stroke="#333" stroke-width="1" />
<line x1="551.30" y1="40.00" x2="551.30" y2="42.20" stroke="#333" stroke-width="1" />
<line x1="551.30" y1="208.20" x2="551.30" y2="206.00" stroke="#333" stroke-width="1" />
<line x1="551.30" y1="247.60" x2="551.30" y2="245.40" stroke="#333" stroke-width="1" />
<line x1="560.20" y1="40.00" x2="560.20" y2="42.20" stroke="#333" stroke-width="1" />
<line x1="560.20" y1="208.20" x2="560.20" y2="206.00" stroke="#333" stroke-width="1" />
<line x1="560.20" y1="247.60" x2="560.20" y2="245.40" stroke="#333" stroke-width="1" />
<line x1="569.10" y1="40.00" x2="569.10" y2="42.20" stroke="#333" stroke-width="1" />
<line x1="569.10" y1="208.20" x2="569.10" y2="206.00" stroke="#333" stroke-width="1" />
<line x1="569.10" y1="247.60" x2="569.10" y2="245.40" stroke="#333" stroke-width="1" />
<line x1="578.00" y1="40.00" x2="578.00" y2="43.60" stroke="#333" stroke-width="1" />
<line x1="578.00" y1="208.20" x2="578.00" y2="204.60" stroke="#333" stroke-width="1" />
<line x1="578.00" y1="247.60" x2="578.00" y2="244.00" stroke="#333" stroke-width="1" />
<line x1="586.90" y1="40.00" x2="586.90" y2="42.20" stroke="#333" stroke-width="1" />
<line x1="586.90" y1="208.20" x2="586.90" y2="206.00" stroke="#333" stroke-width="1" />
<line x1="586.90" y1="247.60" x2="586.90" y2="245.40" stroke="#333" stroke-width="1" />
<line x1="595.80" y1="40.00" x2="595.80" y2="42.20" stroke="#333" stroke-width="1" />
<line x1="595.80" y1="208.20" x2="595.80" y2="206.00" stroke="#333" stroke-width="1" />
<line x1="595.80" y1="247.60" x2="595.80" y2="245.40" stroke="#333" stroke-width="1" />
<line x1="604.70" y1="40.00" x2="604.70" y2="42.20" stroke="#333" stroke-width="1" />
<line x1="604.70" y1="208.20" x2="604.70" y2="206.00" stroke="#333" stroke-width="1" />
<line x1="604.70" y1="247.60" x2="604.70" y2="245.40" stroke="#333" stroke-width="1" />
<line x1="613.60" y1="40.00" x2="613.60" y2="43.60" stroke="#333" stroke-width="1" />
<line x1="613.60" y1="208.20" x2="613.60" y2="204.60" stroke="#333" stroke-width="1" />
<line x1="613.60" y1="247.60" x2="613.60" y2="244.00" stroke="#333" stroke-width="1" />
<line x1="622.50" y1="40.00" x2="622.50" y2="42.20" stroke="#333" stroke-width="1" />
<line x1="622.50" y1="208.20" x2="622.50" y2="206.00" stroke="#333" stroke-width="1" />
<line x1="622.50" y1="247.60" x2="622.50" y2="245.40" stroke="#333" stroke-width="1" />
<line x1="631.40" y1="40.00" x2="631.40" y2="42.20" stroke="#333" stroke-width="1" />
<line x1="631.40" y1="208.20" x2="631.40" y2="206.00" stroke="#333" stroke-width="1" />
<line x1="631.40" y1="247.60" x2="631.40" y2="245.40" stroke="#333" stroke-width="1" />
<line x1="640.30" y1="40.00" x2="640.30" y2="42.20" stroke="#333" stroke-width="1" />
<line x1="640.30" y1="208.20" x2="640.30" y2="206.00" stroke="#333" stroke-width="1" />
<line x1="640.30" y1="247.60" x2="640.30" y2="245.40" stroke="#333" stroke-width="1" />
<line x1="649.20" y1="40.00" x2="649.20" y2="43.60" stroke="#333" stroke-width="1" />
<line x1="649.20" y1="208.20" x2="649.20" y2="204.60" stroke="#333" stroke-width="1" />
<line x1="649.20" y1="247.60" x2="649.20" y2="244.00" stroke="#333" stroke-width="1" />
<line x1="658.10" y1="40.00" x2="658.10" y2="42.20" stroke="#333" stroke-width="1" />
<line x1="658.10" y1="208.20" x2="658.10" y2="206.00" stroke="#333" stroke-width="1" />
<line x1="658.10" y1="247.60" x2="658.10" y2="245.40" stroke="#333" stroke-width="1" />
<line x1="667.00" y1="40.00" x2="667.00" y2="42.20" stroke="#333" stroke-width="1" />
<line x1="667.00" y1="208.20" x2="667.00" y2="206.00" stroke="#333" stroke-width="1" />
<line x1="667.00" y1="247.60" x2="667.00" y2="245.40" stroke="#333" stroke-width="1" />
<line x1="675.90" y1="40.00" x2="675.90" y2="42.20" stroke="#333" stroke-width="1" />
<line x1="675.90" y1="208.20" x2="675.90" y2="206.00" stroke="#333" stroke-width="1" />
<line x1="675.90" y1="247.60" x2="675.90" y2="245.40" stroke="#333" stroke-width="1" />
<line x1="364.50" y1="246.40" x2="368.00" y2="246.40" stroke="#333" stroke-width="1" />
<line x1="681.50" y1="246.40" x2="678.00" y2="246.40" stroke="#333" stroke-width="1" />
<line x1="364.50" y1="242.70" x2="370.00" y2="242.70" stroke="#333" stroke-width="1" />
<line x1="681.50" y1="242.70" x2="676.00" y2="242.70" stroke="#333" stroke-width="1" />
<line x1="364.50" y1="239.00" x2="368.00" y2="239.00" stroke="#333" stroke-width="1" />
<line x1="681.50" y1="239.00" x2="678.00" y2="239.00" stroke="#333" stroke-width="1" />
<line x1="364.50" y1="235.30" x2="368.00" y2="235.30" stroke="#333" stroke-width="1" />
<line x1="681.50" y1="235.30" x2="678.00" y2="235.30" stroke="#333" stroke-width="1" />
<line x1="364.50" y1="231.60" x2="368.00" y2="231.60" stroke="#333" stroke-width="1" />
<line x1="681.50" y1="231.60" x2="678.00" y2="231.60" stroke="#333" stroke-width="1" />
<line x1="364.50" y1="227.90" x2="370.00" y2="227.90" stroke="#333" stroke-width="1" />
<line x1="681.50" y1="227.90" x2="676.00" y2="227.90" stroke="#333" stroke-width="1" />
<line x1="364.50" y1="224.20" x2="368.00" y2="224.20" stroke="#333" stroke-width="1" />
<line x1="681.50" y1="224.20" x2="678.00" y2="224.20" stroke="#333" stroke-width="1" />
<line x1="364.50" y1="220.50" x2="368.00" y2="220.50" stroke="#333" stroke-width="1" />
<line x1="681.50" y1="220.50" x2="678.00" y2="220.50" stroke="#333" stroke-width="1" />
<line x1="364.50" y1="216.80" x2="368.00" y2="216.80" stroke="#333" stroke-width="1" />
<line x1="681.50" y1="216.80" x2="678.00" y2="216.80" stroke="#333" stroke-width="1" />
<line x1="364.50" y1="213.10" x2="370.00" y2="213.10" stroke="#333" stroke-width="1" />
<line x1="681.50" y1="213.10" x2="676.00" y2="213.10" stroke="#333" stroke-width="1" />
<line x1="364.50" y1="209.40" x2="368.00" y2="209.40" stroke="#333" stroke-width="1" />
<line x1="681.50" y1="209.40" x2="678.00" y2="209.40" stroke="#333" stroke-width="1" />
<rect x="364.5" y="40.0" width="317.00" height="168.20" fill="none" stroke="#333" stroke-width="1.05"/>
<rect x="364.5" y="208.2" width="317.00" height="39.40" fill="none" stroke="#333" stroke-width="1.05"/>
<text x="358.00" y="193.80" font-family='"Liberation Sans", sans-serif' font-size="12.3" text-anchor="end" fill="#111" >0</text>
<text x="358.00" y="150.20" font-family='"Liberation Sans", sans-serif' font-size="12.3" text-anchor="end" fill="#111" >20</text>
<text x="358.00" y="106.60" font-family='"Liberation Sans", sans-serif' font-size="12.3" text-anchor="end" fill="#111" >40</text>
<text x="358.00" y="63.00" font-family='"Liberation Sans", sans-serif' font-size="12.3" text-anchor="end" fill="#111" >60</text>
<text x="356.40" y="220.30" font-family='"Liberation Sans", sans-serif' font-size="12.3" text-anchor="end" fill="#111" >20</text>
<text x="356.40" y="235.60" font-family='"Liberation Sans", sans-serif' font-size="12.3" text-anchor="end" fill="#111" >0</text>
<text x="356.40" y="250.00" font-family='"Liberation Sans", sans-serif' font-size="12.3" text-anchor="end" fill="#111" >-20</text>
<text x="364.90" y="263.20" font-family='"Liberation Sans", sans-serif' font-size="12.3" text-anchor="middle" fill="#111" >0</text>
<text x="399.50" y="263.20" font-family='"Liberation Sans", sans-serif' font-size="12.3" text-anchor="middle" fill="#111" >200</text>
<text x="433.80" y="263.20" font-family='"Liberation Sans", sans-serif' font-size="12.3" text-anchor="middle" fill="#111" >400</text>
<text x="472.00" y="263.20" font-family='"Liberation Sans", sans-serif' font-size="12.3" text-anchor="middle" fill="#111" >600</text>
<text x="506.70" y="263.20" font-family='"Liberation Sans", sans-serif' font-size="12.3" text-anchor="middle" fill="#111" >800</text>
<text x="545.40" y="263.20" font-family='"Liberation Sans", sans-serif' font-size="12.3" text-anchor="middle" fill="#111" >1000</text>
<text x="580.20" y="263.20" font-family='"Liberation Sans", sans-serif' font-size="12.3" text-anchor="middle" fill="#111" >1200</text>
<text x="614.60" y="263.20" font-family='"Liberation Sans", sans-serif' font-size="12.3" text-anchor="middle" fill="#111" >1400</text>
<text x="648.90" y="263.20" font-family='"Liberation Sans", sans-serif' font-size="12.3" text-anchor="middle" fill="#111" >1600</text>
<text x="597.30" y="278.50" font-family='"Liberation Sans", sans-serif' font-size="12.3" text-anchor="middle" fill="#111" >Elapsed time after beam off (s)</text>
<text transform="translate(334.3,112.2) rotate(-90)" font-family='"Liberation Sans", sans-serif' font-size="12.45" text-anchor="middle" fill="#111">VUV signal (counts / 20 s)</text>
<text transform="translate(331.2,231.2) rotate(-90)" font-family='"Liberation Sans", sans-serif' font-size="12.2" text-anchor="middle" fill="#111">Residual</text>
<line x1="364.50" y1="188.30" x2="681.50" y2="188.30" stroke="#000" stroke-width="1.2" stroke-dasharray="2 2.1"/>
<line x1="366.18" y1="49.80" x2="366.18" y2="120.80" stroke="#111" stroke-width="1.2" />
<circle cx="366.18" cy="85.3" r="1.8" fill="#000"/>
<line x1="369.74" y1="80.70" x2="369.74" y2="126.70" stroke="#111" stroke-width="1.2" />
<circle cx="369.74" cy="103.7" r="1.8" fill="#000"/>
<line x1="373.30" y1="71.60" x2="373.30" y2="109.60" stroke="#111" stroke-width="1.2" />
<circle cx="373.30" cy="90.6" r="1.8" fill="#000"/>
<line x1="376.86" y1="126.20" x2="376.86" y2="160.20" stroke="#111" stroke-width="1.2" />
<circle cx="376.86" cy="143.2" r="1.8" fill="#000"/>
<line x1="380.42" y1="83.60" x2="380.42" y2="115.60" stroke="#111" stroke-width="1.2" />
<circle cx="380.42" cy="99.6" r="1.8" fill="#000"/>
<line x1="383.98" y1="91.30" x2="383.98" y2="121.30" stroke="#111" stroke-width="1.2" />
<circle cx="383.98" cy="106.3" r="1.8" fill="#000"/>
<line x1="387.54" y1="57.95" x2="387.54" y2="87.05" stroke="#111" stroke-width="1.2" />
<circle cx="387.54" cy="72.5" r="1.8" fill="#000"/>
<line x1="391.10" y1="83.03" x2="391.10" y2="111.77" stroke="#111" stroke-width="1.2" />
<circle cx="391.10" cy="97.4" r="1.8" fill="#000"/>
<line x1="394.66" y1="114.02" x2="394.66" y2="142.38" stroke="#111" stroke-width="1.2" />
<circle cx="394.66" cy="128.2" r="1.8" fill="#000"/>
<line x1="398.22" y1="89.50" x2="398.22" y2="117.50" stroke="#111" stroke-width="1.2" />
<circle cx="398.22" cy="103.5" r="1.8" fill="#000"/>
<line x1="401.78" y1="88.48" x2="401.78" y2="116.12" stroke="#111" stroke-width="1.2" />
<circle cx="401.78" cy="102.3" r="1.8" fill="#000"/>
<line x1="405.34" y1="99.66" x2="405.34" y2="126.94" stroke="#111" stroke-width="1.2" />
<circle cx="405.34" cy="113.3" r="1.8" fill="#000"/>
<line x1="408.90" y1="106.73" x2="408.90" y2="133.67" stroke="#111" stroke-width="1.2" />
<circle cx="408.90" cy="120.2" r="1.8" fill="#000"/>
<line x1="412.46" y1="103.90" x2="412.46" y2="130.50" stroke="#111" stroke-width="1.2" />
<circle cx="412.46" cy="117.2" r="1.8" fill="#000"/>
<line x1="416.02" y1="117.76" x2="416.02" y2="144.04" stroke="#111" stroke-width="1.2" />
<circle cx="416.02" cy="130.9" r="1.8" fill="#000"/>
<line x1="419.58" y1="120.03" x2="419.58" y2="145.97" stroke="#111" stroke-width="1.2" />
<circle cx="419.58" cy="133.0" r="1.8" fill="#000"/>
<line x1="423.14" y1="118.38" x2="423.14" y2="144.02" stroke="#111" stroke-width="1.2" />
<circle cx="423.14" cy="131.2" r="1.8" fill="#000"/>
<line x1="426.70" y1="91.34" x2="426.70" y2="116.66" stroke="#111" stroke-width="1.2" />
<circle cx="426.70" cy="104.0" r="1.8" fill="#000"/>
<line x1="430.26" y1="138.89" x2="430.26" y2="163.91" stroke="#111" stroke-width="1.2" />
<circle cx="430.26" cy="151.4" r="1.8" fill="#000"/>
<line x1="433.82" y1="109.24" x2="433.82" y2="133.96" stroke="#111" stroke-width="1.2" />
<circle cx="433.82" cy="121.6" r="1.8" fill="#000"/>
<line x1="437.38" y1="119.39" x2="437.38" y2="143.81" stroke="#111" stroke-width="1.2" />
<circle cx="437.38" cy="131.6" r="1.8" fill="#000"/>
<line x1="440.94" y1="105.53" x2="440.94" y2="129.67" stroke="#111" stroke-width="1.2" />
<circle cx="440.94" cy="117.6" r="1.8" fill="#000"/>
<line x1="444.50" y1="132.28" x2="444.50" y2="156.12" stroke="#111" stroke-width="1.2" />
<circle cx="444.50" cy="144.2" r="1.8" fill="#000"/>
<line x1="448.06" y1="132.41" x2="448.06" y2="155.99" stroke="#111" stroke-width="1.2" />
<circle cx="448.06" cy="144.2" r="1.8" fill="#000"/>
<line x1="451.62" y1="112.85" x2="451.62" y2="136.15" stroke="#111" stroke-width="1.2" />
<circle cx="451.62" cy="124.5" r="1.8" fill="#000"/>
<line x1="455.18" y1="112.38" x2="455.18" y2="135.42" stroke="#111" stroke-width="1.2" />
<circle cx="455.18" cy="123.9" r="1.8" fill="#000"/>
<line x1="458.74" y1="144.01" x2="458.74" y2="166.79" stroke="#111" stroke-width="1.2" />
<circle cx="458.74" cy="155.4" r="1.8" fill="#000"/>
<line x1="462.30" y1="147.64" x2="462.30" y2="170.16" stroke="#111" stroke-width="1.2" />
<circle cx="462.30" cy="158.9" r="1.8" fill="#000"/>
<line x1="465.86" y1="134.27" x2="465.86" y2="156.53" stroke="#111" stroke-width="1.2" />
<circle cx="465.86" cy="145.4" r="1.8" fill="#000"/>
<line x1="469.42" y1="128.59" x2="469.42" y2="150.61" stroke="#111" stroke-width="1.2" />
<circle cx="469.42" cy="139.6" r="1.8" fill="#000"/>
<line x1="472.98" y1="144.21" x2="472.98" y2="165.99" stroke="#111" stroke-width="1.2" />
<circle cx="472.98" cy="155.1" r="1.8" fill="#000"/>
<line x1="476.54" y1="142.22" x2="476.54" y2="163.78" stroke="#111" stroke-width="1.2" />
<circle cx="476.54" cy="153.0" r="1.8" fill="#000"/>
<line x1="480.10" y1="122.54" x2="480.10" y2="143.86" stroke="#111" stroke-width="1.2" />
<circle cx="480.10" cy="133.2" r="1.8" fill="#000"/>
<line x1="483.66" y1="126.65" x2="483.66" y2="147.75" stroke="#111" stroke-width="1.2" />
<circle cx="483.66" cy="137.2" r="1.8" fill="#000"/>
<line x1="487.22" y1="132.06" x2="487.22" y2="152.94" stroke="#111" stroke-width="1.2" />
<circle cx="487.22" cy="142.5" r="1.8" fill="#000"/>
<line x1="490.78" y1="144.77" x2="490.78" y2="165.43" stroke="#111" stroke-width="1.2" />
<circle cx="490.78" cy="155.1" r="1.8" fill="#000"/>
<line x1="494.34" y1="146.27" x2="494.34" y2="166.73" stroke="#111" stroke-width="1.2" />
<circle cx="494.34" cy="156.5" r="1.8" fill="#000"/>
<line x1="497.90" y1="167.38" x2="497.90" y2="187.62" stroke="#111" stroke-width="1.2" />
<circle cx="497.90" cy="177.5" r="1.8" fill="#000"/>
<line x1="501.46" y1="178.38" x2="501.46" y2="198.42" stroke="#111" stroke-width="1.2" />
<circle cx="501.46" cy="188.4" r="1.8" fill="#000"/>
<line x1="505.02" y1="147.28" x2="505.02" y2="167.12" stroke="#111" stroke-width="1.2" />
<circle cx="505.02" cy="157.2" r="1.8" fill="#000"/>
<line x1="508.58" y1="156.37" x2="508.58" y2="176.03" stroke="#111" stroke-width="1.2" />
<circle cx="508.58" cy="166.2" r="1.8" fill="#000"/>
<line x1="512.14" y1="142.77" x2="512.14" y2="162.23" stroke="#111" stroke-width="1.2" />
<circle cx="512.14" cy="152.5" r="1.8" fill="#000"/>
<line x1="515.70" y1="176.76" x2="515.70" y2="196.04" stroke="#111" stroke-width="1.2" />
<circle cx="515.70" cy="186.4" r="1.8" fill="#000"/>
<line x1="519.26" y1="151.85" x2="519.26" y2="170.95" stroke="#111" stroke-width="1.2" />
<circle cx="519.26" cy="161.4" r="1.8" fill="#000"/>
<line x1="522.82" y1="164.74" x2="522.82" y2="183.66" stroke="#111" stroke-width="1.2" />
<circle cx="522.82" cy="174.2" r="1.8" fill="#000"/>
<line x1="526.38" y1="150.82" x2="526.38" y2="169.58" stroke="#111" stroke-width="1.2" />
<circle cx="526.38" cy="160.2" r="1.8" fill="#000"/>
<line x1="529.94" y1="150.31" x2="529.94" y2="168.89" stroke="#111" stroke-width="1.2" />
<circle cx="529.94" cy="159.6" r="1.8" fill="#000"/>
<line x1="533.50" y1="152.69" x2="533.50" y2="171.11" stroke="#111" stroke-width="1.2" />
<circle cx="533.50" cy="161.9" r="1.8" fill="#000"/>
<line x1="537.06" y1="156.97" x2="537.06" y2="175.23" stroke="#111" stroke-width="1.2" />
<circle cx="537.06" cy="166.1" r="1.8" fill="#000"/>
<line x1="540.62" y1="138.35" x2="540.62" y2="156.45" stroke="#111" stroke-width="1.2" />
<circle cx="540.62" cy="147.4" r="1.8" fill="#000"/>
<line x1="544.18" y1="162.93" x2="544.18" y2="180.87" stroke="#111" stroke-width="1.2" />
<circle cx="544.18" cy="171.9" r="1.8" fill="#000"/>
<line x1="547.74" y1="158.60" x2="547.74" y2="176.40" stroke="#111" stroke-width="1.2" />
<circle cx="547.74" cy="167.5" r="1.8" fill="#000"/>
<line x1="551.30" y1="157.87" x2="551.30" y2="175.53" stroke="#111" stroke-width="1.2" />
<circle cx="551.30" cy="166.7" r="1.8" fill="#000"/>
<line x1="554.86" y1="168.95" x2="554.86" y2="186.45" stroke="#111" stroke-width="1.2" />
<circle cx="554.86" cy="177.7" r="1.8" fill="#000"/>
<line x1="558.42" y1="160.91" x2="558.42" y2="178.29" stroke="#111" stroke-width="1.2" />
<circle cx="558.42" cy="169.6" r="1.8" fill="#000"/>
<line x1="561.98" y1="161.58" x2="561.98" y2="178.82" stroke="#111" stroke-width="1.2" />
<circle cx="561.98" cy="170.2" r="1.8" fill="#000"/>
<line x1="565.54" y1="156.35" x2="565.54" y2="173.45" stroke="#111" stroke-width="1.2" />
<circle cx="565.54" cy="164.9" r="1.8" fill="#000"/>
<line x1="569.10" y1="157.81" x2="569.10" y2="174.79" stroke="#111" stroke-width="1.2" />
<circle cx="569.10" cy="166.3" r="1.8" fill="#000"/>
<line x1="572.66" y1="174.08" x2="572.66" y2="190.92" stroke="#111" stroke-width="1.2" />
<circle cx="572.66" cy="182.5" r="1.8" fill="#000"/>
<line x1="576.22" y1="158.34" x2="576.22" y2="175.06" stroke="#111" stroke-width="1.2" />
<circle cx="576.22" cy="166.7" r="1.8" fill="#000"/>
<line x1="579.78" y1="161.90" x2="579.78" y2="178.50" stroke="#111" stroke-width="1.2" />
<circle cx="579.78" cy="170.2" r="1.8" fill="#000"/>
<line x1="583.34" y1="165.46" x2="583.34" y2="181.94" stroke="#111" stroke-width="1.2" />
<circle cx="583.34" cy="173.7" r="1.8" fill="#000"/>
<line x1="586.90" y1="162.92" x2="586.90" y2="179.28" stroke="#111" stroke-width="1.2" />
<circle cx="586.90" cy="171.1" r="1.8" fill="#000"/>
<line x1="590.46" y1="158.57" x2="590.46" y2="174.83" stroke="#111" stroke-width="1.2" />
<circle cx="590.46" cy="166.7" r="1.8" fill="#000"/>
<line x1="594.02" y1="156.63" x2="594.02" y2="172.77" stroke="#111" stroke-width="1.2" />
<circle cx="594.02" cy="164.7" r="1.8" fill="#000"/>
<line x1="597.58" y1="167.98" x2="597.58" y2="184.02" stroke="#111" stroke-width="1.2" />
<circle cx="597.58" cy="176.0" r="1.8" fill="#000"/>
<line x1="601.14" y1="160.43" x2="601.14" y2="176.37" stroke="#111" stroke-width="1.2" />
<circle cx="601.14" cy="168.4" r="1.8" fill="#000"/>
<line x1="604.70" y1="180.28" x2="604.70" y2="196.12" stroke="#111" stroke-width="1.2" />
<circle cx="604.70" cy="188.2" r="1.8" fill="#000"/>
<line x1="608.26" y1="168.43" x2="608.26" y2="184.17" stroke="#111" stroke-width="1.2" />
<circle cx="608.26" cy="176.3" r="1.8" fill="#000"/>
<line x1="611.82" y1="177.28" x2="611.82" y2="192.92" stroke="#111" stroke-width="1.2" />
<circle cx="611.82" cy="185.1" r="1.8" fill="#000"/>
<line x1="615.38" y1="154.53" x2="615.38" y2="170.07" stroke="#111" stroke-width="1.2" />
<circle cx="615.38" cy="162.3" r="1.8" fill="#000"/>
<line x1="618.94" y1="162.47" x2="618.94" y2="177.93" stroke="#111" stroke-width="1.2" />
<circle cx="618.94" cy="170.2" r="1.8" fill="#000"/>
<line x1="622.50" y1="171.82" x2="622.50" y2="187.18" stroke="#111" stroke-width="1.2" />
<circle cx="622.50" cy="179.5" r="1.8" fill="#000"/>
<line x1="626.06" y1="160.26" x2="626.06" y2="175.54" stroke="#111" stroke-width="1.2" />
<circle cx="626.06" cy="167.9" r="1.8" fill="#000"/>
<line x1="629.62" y1="173.50" x2="629.62" y2="188.70" stroke="#111" stroke-width="1.2" />
<circle cx="629.62" cy="181.1" r="1.8" fill="#000"/>
<line x1="633.18" y1="167.84" x2="633.18" y2="182.96" stroke="#111" stroke-width="1.2" />
<circle cx="633.18" cy="175.4" r="1.8" fill="#000"/>
<line x1="636.74" y1="179.48" x2="636.74" y2="194.52" stroke="#111" stroke-width="1.2" />
<circle cx="636.74" cy="187.0" r="1.8" fill="#000"/>
<line x1="640.30" y1="164.42" x2="640.30" y2="179.38" stroke="#111" stroke-width="1.2" />
<circle cx="640.30" cy="171.9" r="1.8" fill="#000"/>
<line x1="643.86" y1="178.56" x2="643.86" y2="193.44" stroke="#111" stroke-width="1.2" />
<circle cx="643.86" cy="186.0" r="1.8" fill="#000"/>
<line x1="647.42" y1="168.70" x2="647.42" y2="183.50" stroke="#111" stroke-width="1.2" />
<circle cx="647.42" cy="176.1" r="1.8" fill="#000"/>
<line x1="650.98" y1="169.83" x2="650.98" y2="184.57" stroke="#111" stroke-width="1.2" />
<circle cx="650.98" cy="177.2" r="1.8" fill="#000"/>
<line x1="654.54" y1="187.17" x2="654.54" y2="201.83" stroke="#111" stroke-width="1.2" />
<circle cx="654.54" cy="194.5" r="1.8" fill="#000"/>
<line x1="658.10" y1="176.40" x2="658.10" y2="191.00" stroke="#111" stroke-width="1.2" />
<circle cx="658.10" cy="183.7" r="1.8" fill="#000"/>
<line x1="661.66" y1="190.43" x2="661.66" y2="204.97" stroke="#111" stroke-width="1.2" />
<circle cx="661.66" cy="197.7" r="1.8" fill="#000"/>
<line x1="665.22" y1="190.47" x2="665.22" y2="204.93" stroke="#111" stroke-width="1.2" />
<circle cx="665.22" cy="197.7" r="1.8" fill="#000"/>
<line x1="668.78" y1="188.00" x2="668.78" y2="202.40" stroke="#111" stroke-width="1.2" />
<circle cx="668.78" cy="195.2" r="1.8" fill="#000"/>
<line x1="672.34" y1="174.73" x2="672.34" y2="189.07" stroke="#111" stroke-width="1.2" />
<circle cx="672.34" cy="181.9" r="1.8" fill="#000"/>
<line x1="675.90" y1="179.56" x2="675.90" y2="193.84" stroke="#111" stroke-width="1.2" />
<circle cx="675.90" cy="186.7" r="1.8" fill="#000"/>
<line x1="679.46" y1="165.49" x2="679.46" y2="179.71" stroke="#111" stroke-width="1.2" />
<circle cx="679.46" cy="172.6" r="1.8" fill="#000"/>
<polyline points="365.47,85.86 366.89,87.16 368.32,88.44 369.74,89.71 371.16,90.96 372.59,92.20 374.01,93.42 375.44,94.63 376.86,95.82 378.28,96.99 379.71,98.15 381.13,99.30 382.56,100.43 383.98,101.54 385.40,102.65 386.83,103.73 388.25,104.81 389.68,105.87 391.10,106.92 392.52,107.95 393.95,108.97 395.37,109.98 396.80,110.97 398.22,111.96 399.64,112.93 401.07,113.88 402.49,114.83 403.92,115.76 405.34,116.68 406.76,117.59 408.19,118.49 409.61,119.38 411.04,120.25 412.46,121.12 413.88,121.97 415.31,122.81 416.73,123.64 418.16,124.46 419.58,125.27 421.00,126.08 422.43,126.87 423.85,127.65 425.28,128.42 426.70,129.18 428.12,129.93 429.55,130.67 430.97,131.40 432.40,132.12 433.82,132.84 435.24,133.54 436.67,134.23 438.09,134.92 439.52,135.60 440.94,136.27 442.36,136.93 443.79,137.58 445.21,138.22 446.64,138.86 448.06,139.49 449.48,140.11 450.91,140.72 452.33,141.32 453.76,141.92 455.18,142.51 456.60,143.09 458.03,143.66 459.45,144.23 460.88,144.79 462.30,145.34 463.72,145.88 465.15,146.42 466.57,146.95 468.00,147.48 469.42,148.00 470.84,148.51 472.27,149.01 473.69,149.51 475.12,150.00 476.54,150.49 477.96,150.97 479.39,151.44 480.81,151.91 482.24,152.37 483.66,152.83 485.08,153.28 486.51,153.72 487.93,154.16 489.36,154.59 490.78,155.02 492.20,155.44 493.63,155.86 495.05,156.27 496.48,156.68 497.90,157.08 499.32,157.47 500.75,157.86 502.17,158.25 503.60,158.63 505.02,159.01 506.44,159.38 507.87,159.74 509.29,160.11 510.72,160.46 512.14,160.82 513.56,161.16 514.99,161.51 516.41,161.85 517.84,162.18 519.26,162.51 520.68,162.84 522.11,163.16 523.53,163.48 524.96,163.80 526.38,164.11 527.80,164.41 529.23,164.72 530.65,165.01 532.08,165.31 533.50,165.60 534.92,165.89 536.35,166.17 537.77,166.45 539.20,166.73 540.62,167.00 542.04,167.27 543.47,167.54 544.89,167.80 546.32,168.06 547.74,168.32 549.16,168.57 550.59,168.82 552.01,169.06 553.44,169.31 554.86,169.55 556.28,169.79 557.71,170.02 559.13,170.25 560.56,170.48 561.98,170.70 563.40,170.93 564.83,171.15 566.25,171.36 567.68,171.58 569.10,171.79 570.52,172.00 571.95,172.20 573.37,172.41 574.80,172.61 576.22,172.81 577.64,173.00 579.07,173.20 580.49,173.39 581.92,173.57 583.34,173.76 584.76,173.94 586.19,174.13 587.61,174.30 589.04,174.48 590.46,174.66 591.88,174.83 593.31,175.00 594.73,175.17 596.16,175.33 597.58,175.50 599.00,175.66 600.43,175.82 601.85,175.97 603.28,176.13 604.70,176.28 606.12,176.43 607.55,176.58 608.97,176.73 610.40,176.88 611.82,177.02 613.24,177.16 614.67,177.30 616.09,177.44 617.52,177.58 618.94,177.71 620.36,177.85 621.79,177.98 623.21,178.11 624.64,178.24 626.06,178.37 627.48,178.49 628.91,178.61 630.33,178.74 631.76,178.86 633.18,178.97 634.60,179.09 636.03,179.21 637.45,179.32 638.88,179.44 640.30,179.55 641.72,179.66 643.15,179.77 644.57,179.87 646.00,179.98 647.42,180.08 648.84,180.19 650.27,180.29 651.69,180.39 653.12,180.49 654.54,180.59 655.96,180.68 657.39,180.78 658.81,180.87 660.24,180.97 661.66,181.06 663.08,181.15 664.51,181.24 665.93,181.33 667.36,181.41 668.78,181.50 670.20,181.59 671.63,181.67 673.05,181.75 674.48,181.84 675.90,181.92 677.32,182.00 678.75,182.08" fill="none" stroke="#1238ff" stroke-width="2.0"/>
<line x1="364.50" y1="227.90" x2="681.50" y2="227.90" stroke="#555" stroke-width="1.1" stroke-dasharray="1.6 2.2"/>
<line x1="366.18" y1="215.44" x2="366.18" y2="239.54" stroke="#111" stroke-width="1.2" />
<line x1="364.18" y1="227.49" x2="368.18" y2="227.49" stroke="#111" stroke-width="1.1" />
<line x1="369.74" y1="224.84" x2="369.74" y2="240.46" stroke="#111" stroke-width="1.2" />
<line x1="367.74" y1="232.65" x2="371.74" y2="232.65" stroke="#111" stroke-width="1.1" />
<line x1="373.30" y1="220.70" x2="373.30" y2="233.60" stroke="#111" stroke-width="1.2" />
<line x1="371.30" y1="227.15" x2="375.30" y2="227.15" stroke="#111" stroke-width="1.1" />
<line x1="376.86" y1="238.21" x2="376.86" y2="247.60" stroke="#111" stroke-width="1.2" />
<line x1="374.86" y1="243.98" x2="378.86" y2="243.98" stroke="#111" stroke-width="1.1" />
<line x1="380.42" y1="222.77" x2="380.42" y2="233.63" stroke="#111" stroke-width="1.2" />
<line x1="378.42" y1="228.20" x2="382.42" y2="228.20" stroke="#111" stroke-width="1.1" />
<line x1="383.98" y1="224.42" x2="383.98" y2="234.61" stroke="#111" stroke-width="1.2" />
<line x1="381.98" y1="229.51" x2="385.98" y2="229.51" stroke="#111" stroke-width="1.1" />
<line x1="387.54" y1="212.17" x2="387.54" y2="222.06" stroke="#111" stroke-width="1.2" />
<line x1="385.54" y1="217.11" x2="389.54" y2="217.11" stroke="#111" stroke-width="1.1" />
<line x1="391.10" y1="219.79" x2="391.10" y2="229.55" stroke="#111" stroke-width="1.2" />
<line x1="389.10" y1="224.67" x2="393.10" y2="224.67" stroke="#111" stroke-width="1.1" />
<line x1="394.66" y1="229.44" x2="394.66" y2="239.07" stroke="#111" stroke-width="1.2" />
<line x1="392.66" y1="234.26" x2="396.66" y2="234.26" stroke="#111" stroke-width="1.1" />
<line x1="398.22" y1="220.28" x2="398.22" y2="229.78" stroke="#111" stroke-width="1.2" />
<line x1="396.22" y1="225.03" x2="400.22" y2="225.03" stroke="#111" stroke-width="1.1" />
<line x1="401.78" y1="219.12" x2="401.78" y2="228.50" stroke="#111" stroke-width="1.2" />
<line x1="399.78" y1="223.81" x2="403.78" y2="223.81" stroke="#111" stroke-width="1.1" />
<line x1="405.34" y1="222.12" x2="405.34" y2="231.38" stroke="#111" stroke-width="1.2" />
<line x1="403.34" y1="226.75" x2="407.34" y2="226.75" stroke="#111" stroke-width="1.1" />
<line x1="408.90" y1="223.76" x2="408.90" y2="232.90" stroke="#111" stroke-width="1.2" />
<line x1="406.90" y1="228.33" x2="410.90" y2="228.33" stroke="#111" stroke-width="1.1" />
<line x1="412.46" y1="222.06" x2="412.46" y2="231.09" stroke="#111" stroke-width="1.2" />
<line x1="410.46" y1="226.57" x2="414.46" y2="226.57" stroke="#111" stroke-width="1.1" />
<line x1="416.02" y1="226.04" x2="416.02" y2="234.96" stroke="#111" stroke-width="1.2" />
<line x1="414.02" y1="230.50" x2="418.02" y2="230.50" stroke="#111" stroke-width="1.1" />
<line x1="419.58" y1="226.12" x2="419.58" y2="234.93" stroke="#111" stroke-width="1.2" />
<line x1="417.58" y1="230.52" x2="421.58" y2="230.52" stroke="#111" stroke-width="1.1" />
<line x1="423.14" y1="224.89" x2="423.14" y2="233.59" stroke="#111" stroke-width="1.2" />
<line x1="421.14" y1="229.24" x2="425.14" y2="229.24" stroke="#111" stroke-width="1.1" />
<line x1="426.70" y1="215.06" x2="426.70" y2="223.65" stroke="#111" stroke-width="1.2" />
<line x1="424.70" y1="219.35" x2="428.70" y2="219.35" stroke="#111" stroke-width="1.1" />
<line x1="430.26" y1="230.57" x2="430.26" y2="239.06" stroke="#111" stroke-width="1.2" />
<line x1="428.26" y1="234.81" x2="432.26" y2="234.81" stroke="#111" stroke-width="1.1" />
<line x1="433.82" y1="219.89" x2="433.82" y2="228.28" stroke="#111" stroke-width="1.2" />
<line x1="431.82" y1="224.09" x2="435.82" y2="224.09" stroke="#111" stroke-width="1.1" />
<line x1="437.38" y1="222.74" x2="437.38" y2="231.03" stroke="#111" stroke-width="1.2" />
<line x1="435.38" y1="226.89" x2="439.38" y2="226.89" stroke="#111" stroke-width="1.1" />
<line x1="440.94" y1="217.47" x2="440.94" y2="225.66" stroke="#111" stroke-width="1.2" />
<line x1="438.94" y1="221.56" x2="442.94" y2="221.56" stroke="#111" stroke-width="1.1" />
<line x1="444.50" y1="225.99" x2="444.50" y2="234.09" stroke="#111" stroke-width="1.2" />
<line x1="442.50" y1="230.04" x2="446.50" y2="230.04" stroke="#111" stroke-width="1.1" />
<line x1="448.06" y1="225.50" x2="448.06" y2="233.50" stroke="#111" stroke-width="1.2" />
<line x1="446.06" y1="229.50" x2="450.06" y2="229.50" stroke="#111" stroke-width="1.1" />
<line x1="451.62" y1="218.34" x2="451.62" y2="226.25" stroke="#111" stroke-width="1.2" />
<line x1="449.62" y1="222.29" x2="453.62" y2="222.29" stroke="#111" stroke-width="1.1" />
<line x1="455.18" y1="217.67" x2="455.18" y2="225.49" stroke="#111" stroke-width="1.2" />
<line x1="453.18" y1="221.58" x2="457.18" y2="221.58" stroke="#111" stroke-width="1.1" />
<line x1="458.74" y1="227.92" x2="458.74" y2="235.65" stroke="#111" stroke-width="1.2" />
<line x1="456.74" y1="231.79" x2="460.74" y2="231.79" stroke="#111" stroke-width="1.1" />
<line x1="462.30" y1="228.68" x2="462.30" y2="236.33" stroke="#111" stroke-width="1.2" />
<line x1="460.30" y1="232.50" x2="464.30" y2="232.50" stroke="#111" stroke-width="1.1" />
<line x1="465.86" y1="223.68" x2="465.86" y2="231.24" stroke="#111" stroke-width="1.2" />
<line x1="463.86" y1="227.46" x2="467.86" y2="227.46" stroke="#111" stroke-width="1.1" />
<line x1="469.42" y1="221.31" x2="469.42" y2="228.79" stroke="#111" stroke-width="1.2" />
<line x1="467.42" y1="225.05" x2="471.42" y2="225.05" stroke="#111" stroke-width="1.1" />
<line x1="472.98" y1="226.18" x2="472.98" y2="233.58" stroke="#111" stroke-width="1.2" />
<line x1="470.98" y1="229.88" x2="474.98" y2="229.88" stroke="#111" stroke-width="1.1" />
<line x1="476.54" y1="225.09" x2="476.54" y2="232.41" stroke="#111" stroke-width="1.2" />
<line x1="474.54" y1="228.75" x2="478.54" y2="228.75" stroke="#111" stroke-width="1.1" />
<line x1="480.10" y1="218.01" x2="480.10" y2="225.25" stroke="#111" stroke-width="1.2" />
<line x1="478.10" y1="221.63" x2="482.10" y2="221.63" stroke="#111" stroke-width="1.1" />
<line x1="483.66" y1="219.01" x2="483.66" y2="226.18" stroke="#111" stroke-width="1.2" />
<line x1="481.66" y1="222.60" x2="485.66" y2="222.60" stroke="#111" stroke-width="1.1" />
<line x1="487.22" y1="220.47" x2="487.22" y2="227.56" stroke="#111" stroke-width="1.2" />
<line x1="485.22" y1="224.02" x2="489.22" y2="224.02" stroke="#111" stroke-width="1.1" />
<line x1="490.78" y1="224.42" x2="490.78" y2="231.43" stroke="#111" stroke-width="1.2" />
<line x1="488.78" y1="227.93" x2="492.78" y2="227.93" stroke="#111" stroke-width="1.1" />
<line x1="494.34" y1="224.58" x2="494.34" y2="231.52" stroke="#111" stroke-width="1.2" />
<line x1="492.34" y1="228.05" x2="496.34" y2="228.05" stroke="#111" stroke-width="1.1" />
<line x1="497.90" y1="231.40" x2="497.90" y2="238.27" stroke="#111" stroke-width="1.2" />
<line x1="495.90" y1="234.83" x2="499.90" y2="234.83" stroke="#111" stroke-width="1.1" />
<line x1="501.46" y1="234.80" x2="501.46" y2="241.60" stroke="#111" stroke-width="1.2" />
<line x1="499.46" y1="238.20" x2="503.46" y2="238.20" stroke="#111" stroke-width="1.1" />
<line x1="505.02" y1="223.92" x2="505.02" y2="230.66" stroke="#111" stroke-width="1.2" />
<line x1="503.02" y1="227.29" x2="507.02" y2="227.29" stroke="#111" stroke-width="1.1" />
<line x1="508.58" y1="226.69" x2="508.58" y2="233.37" stroke="#111" stroke-width="1.2" />
<line x1="506.58" y1="230.03" x2="510.58" y2="230.03" stroke="#111" stroke-width="1.1" />
<line x1="512.14" y1="221.77" x2="512.14" y2="228.38" stroke="#111" stroke-width="1.2" />
<line x1="510.14" y1="225.08" x2="514.14" y2="225.08" stroke="#111" stroke-width="1.1" />
<line x1="515.70" y1="233.02" x2="515.70" y2="239.56" stroke="#111" stroke-width="1.2" />
<line x1="513.70" y1="236.29" x2="517.70" y2="236.29" stroke="#111" stroke-width="1.1" />
<line x1="519.26" y1="224.28" x2="519.26" y2="230.76" stroke="#111" stroke-width="1.2" />
<line x1="517.26" y1="227.52" x2="521.26" y2="227.52" stroke="#111" stroke-width="1.1" />
<line x1="522.82" y1="228.38" x2="522.82" y2="234.80" stroke="#111" stroke-width="1.2" />
<line x1="520.82" y1="231.59" x2="524.82" y2="231.59" stroke="#111" stroke-width="1.1" />
<line x1="526.38" y1="223.39" x2="526.38" y2="229.76" stroke="#111" stroke-width="1.2" />
<line x1="524.38" y1="226.57" x2="528.38" y2="226.57" stroke="#111" stroke-width="1.1" />
<line x1="529.94" y1="222.96" x2="529.94" y2="229.27" stroke="#111" stroke-width="1.2" />
<line x1="527.94" y1="226.11" x2="531.94" y2="226.11" stroke="#111" stroke-width="1.1" />
<line x1="533.50" y1="223.52" x2="533.50" y2="229.77" stroke="#111" stroke-width="1.2" />
<line x1="531.50" y1="226.64" x2="535.50" y2="226.64" stroke="#111" stroke-width="1.1" />
<line x1="537.06" y1="224.73" x2="537.06" y2="230.93" stroke="#111" stroke-width="1.2" />
<line x1="535.06" y1="227.83" x2="539.06" y2="227.83" stroke="#111" stroke-width="1.1" />
<line x1="540.62" y1="218.17" x2="540.62" y2="224.32" stroke="#111" stroke-width="1.2" />
<line x1="538.62" y1="221.25" x2="542.62" y2="221.25" stroke="#111" stroke-width="1.1" />
<line x1="544.18" y1="226.29" x2="544.18" y2="232.38" stroke="#111" stroke-width="1.2" />
<line x1="542.18" y1="229.34" x2="546.18" y2="229.34" stroke="#111" stroke-width="1.1" />
<line x1="547.74" y1="224.60" x2="547.74" y2="230.64" stroke="#111" stroke-width="1.2" />
<line x1="545.74" y1="227.62" x2="549.74" y2="227.62" stroke="#111" stroke-width="1.1" />
<line x1="551.30" y1="224.14" x2="551.30" y2="230.14" stroke="#111" stroke-width="1.2" />
<line x1="549.30" y1="227.14" x2="553.30" y2="227.14" stroke="#111" stroke-width="1.1" />
<line x1="554.86" y1="227.70" x2="554.86" y2="233.64" stroke="#111" stroke-width="1.2" />
<line x1="552.86" y1="230.67" x2="556.86" y2="230.67" stroke="#111" stroke-width="1.1" />
<line x1="558.42" y1="224.77" x2="558.42" y2="230.67" stroke="#111" stroke-width="1.2" />
<line x1="556.42" y1="227.72" x2="560.42" y2="227.72" stroke="#111" stroke-width="1.1" />
<line x1="561.98" y1="224.80" x2="561.98" y2="230.65" stroke="#111" stroke-width="1.2" />
<line x1="559.98" y1="227.73" x2="563.98" y2="227.73" stroke="#111" stroke-width="1.1" />
<line x1="565.54" y1="222.84" x2="565.54" y2="228.65" stroke="#111" stroke-width="1.2" />
<line x1="563.54" y1="225.74" x2="567.54" y2="225.74" stroke="#111" stroke-width="1.1" />
<line x1="569.10" y1="223.16" x2="569.10" y2="228.92" stroke="#111" stroke-width="1.2" />
<line x1="567.10" y1="226.04" x2="571.10" y2="226.04" stroke="#111" stroke-width="1.1" />
<line x1="572.66" y1="228.50" x2="572.66" y2="234.22" stroke="#111" stroke-width="1.2" />
<line x1="570.66" y1="231.36" x2="574.66" y2="231.36" stroke="#111" stroke-width="1.1" />
<line x1="576.22" y1="222.99" x2="576.22" y2="228.67" stroke="#111" stroke-width="1.2" />
<line x1="574.22" y1="225.83" x2="578.22" y2="225.83" stroke="#111" stroke-width="1.1" />
<line x1="579.78" y1="224.03" x2="579.78" y2="229.67" stroke="#111" stroke-width="1.2" />
<line x1="577.78" y1="226.85" x2="581.78" y2="226.85" stroke="#111" stroke-width="1.1" />
<line x1="583.34" y1="225.08" x2="583.34" y2="230.68" stroke="#111" stroke-width="1.2" />
<line x1="581.34" y1="227.88" x2="585.34" y2="227.88" stroke="#111" stroke-width="1.1" />
<line x1="586.90" y1="224.06" x2="586.90" y2="229.62" stroke="#111" stroke-width="1.2" />
<line x1="584.90" y1="226.84" x2="588.90" y2="226.84" stroke="#111" stroke-width="1.1" />
<line x1="590.46" y1="222.44" x2="590.46" y2="227.96" stroke="#111" stroke-width="1.2" />
<line x1="588.46" y1="225.20" x2="592.46" y2="225.20" stroke="#111" stroke-width="1.1" />
<line x1="594.02" y1="221.64" x2="594.02" y2="227.12" stroke="#111" stroke-width="1.2" />
<line x1="592.02" y1="224.38" x2="596.02" y2="224.38" stroke="#111" stroke-width="1.1" />
<line x1="597.58" y1="225.35" x2="597.58" y2="230.79" stroke="#111" stroke-width="1.2" />
<line x1="595.58" y1="228.07" x2="599.58" y2="228.07" stroke="#111" stroke-width="1.1" />
<line x1="601.14" y1="222.65" x2="601.14" y2="228.06" stroke="#111" stroke-width="1.2" />
<line x1="599.14" y1="225.36" x2="603.14" y2="225.36" stroke="#111" stroke-width="1.1" />
<line x1="604.70" y1="229.26" x2="604.70" y2="234.63" stroke="#111" stroke-width="1.2" />
<line x1="602.70" y1="231.95" x2="606.70" y2="231.95" stroke="#111" stroke-width="1.1" />
<line x1="608.26" y1="225.11" x2="608.26" y2="230.45" stroke="#111" stroke-width="1.2" />
<line x1="606.26" y1="227.78" x2="610.26" y2="227.78" stroke="#111" stroke-width="1.1" />
<line x1="611.82" y1="227.99" x2="611.82" y2="233.30" stroke="#111" stroke-width="1.2" />
<line x1="609.82" y1="230.64" x2="613.82" y2="230.64" stroke="#111" stroke-width="1.1" />
<line x1="615.38" y1="220.14" x2="615.38" y2="225.42" stroke="#111" stroke-width="1.2" />
<line x1="613.38" y1="222.78" x2="617.38" y2="222.78" stroke="#111" stroke-width="1.1" />
<line x1="618.94" y1="222.73" x2="618.94" y2="227.97" stroke="#111" stroke-width="1.2" />
<line x1="616.94" y1="225.35" x2="620.94" y2="225.35" stroke="#111" stroke-width="1.1" />
<line x1="622.50" y1="225.79" x2="622.50" y2="231.00" stroke="#111" stroke-width="1.2" />
<line x1="620.50" y1="228.39" x2="624.50" y2="228.39" stroke="#111" stroke-width="1.1" />
<line x1="626.06" y1="221.75" x2="626.06" y2="226.94" stroke="#111" stroke-width="1.2" />
<line x1="624.06" y1="224.35" x2="628.06" y2="224.35" stroke="#111" stroke-width="1.1" />
<line x1="629.62" y1="226.14" x2="629.62" y2="231.30" stroke="#111" stroke-width="1.2" />
<line x1="627.62" y1="228.72" x2="631.62" y2="228.72" stroke="#111" stroke-width="1.1" />
<line x1="633.18" y1="224.12" x2="633.18" y2="229.25" stroke="#111" stroke-width="1.2" />
<line x1="631.18" y1="226.69" x2="635.18" y2="226.69" stroke="#111" stroke-width="1.1" />
<line x1="636.74" y1="227.97" x2="636.74" y2="233.08" stroke="#111" stroke-width="1.2" />
<line x1="634.74" y1="230.53" x2="638.74" y2="230.53" stroke="#111" stroke-width="1.1" />
<line x1="640.30" y1="222.77" x2="640.30" y2="227.84" stroke="#111" stroke-width="1.2" />
<line x1="638.30" y1="225.30" x2="642.30" y2="225.30" stroke="#111" stroke-width="1.1" />
<line x1="643.86" y1="227.47" x2="643.86" y2="232.52" stroke="#111" stroke-width="1.2" />
<line x1="641.86" y1="230.00" x2="645.86" y2="230.00" stroke="#111" stroke-width="1.1" />
<line x1="647.42" y1="224.03" x2="647.42" y2="229.06" stroke="#111" stroke-width="1.2" />
<line x1="645.42" y1="226.55" x2="649.42" y2="226.55" stroke="#111" stroke-width="1.1" />
<line x1="650.98" y1="224.33" x2="650.98" y2="229.34" stroke="#111" stroke-width="1.2" />
<line x1="648.98" y1="226.83" x2="652.98" y2="226.83" stroke="#111" stroke-width="1.1" />
<line x1="654.54" y1="230.13" x2="654.54" y2="235.11" stroke="#111" stroke-width="1.2" />
<line x1="652.54" y1="232.62" x2="656.54" y2="232.62" stroke="#111" stroke-width="1.1" />
<line x1="658.10" y1="226.40" x2="658.10" y2="231.35" stroke="#111" stroke-width="1.2" />
<line x1="656.10" y1="228.88" x2="660.10" y2="228.88" stroke="#111" stroke-width="1.1" />
<line x1="661.66" y1="231.08" x2="661.66" y2="236.02" stroke="#111" stroke-width="1.2" />
<line x1="659.66" y1="233.55" x2="663.66" y2="233.55" stroke="#111" stroke-width="1.1" />
<line x1="665.22" y1="231.02" x2="665.22" y2="235.93" stroke="#111" stroke-width="1.2" />
<line x1="663.22" y1="233.47" x2="667.22" y2="233.47" stroke="#111" stroke-width="1.1" />
<line x1="668.78" y1="230.10" x2="668.78" y2="235.00" stroke="#111" stroke-width="1.2" />
<line x1="666.78" y1="232.55" x2="670.78" y2="232.55" stroke="#111" stroke-width="1.1" />
<line x1="672.34" y1="225.53" x2="672.34" y2="230.40" stroke="#111" stroke-width="1.2" />
<line x1="670.34" y1="227.96" x2="674.34" y2="227.96" stroke="#111" stroke-width="1.1" />
<line x1="675.90" y1="227.10" x2="675.90" y2="231.95" stroke="#111" stroke-width="1.2" />
<line x1="673.90" y1="229.52" x2="677.90" y2="229.52" stroke="#111" stroke-width="1.1" />
<line x1="679.46" y1="222.26" x2="679.46" y2="227.09" stroke="#111" stroke-width="1.2" />
<line x1="677.46" y1="224.67" x2="681.46" y2="224.67" stroke="#111" stroke-width="1.1" />
</svg>
</body></html>
